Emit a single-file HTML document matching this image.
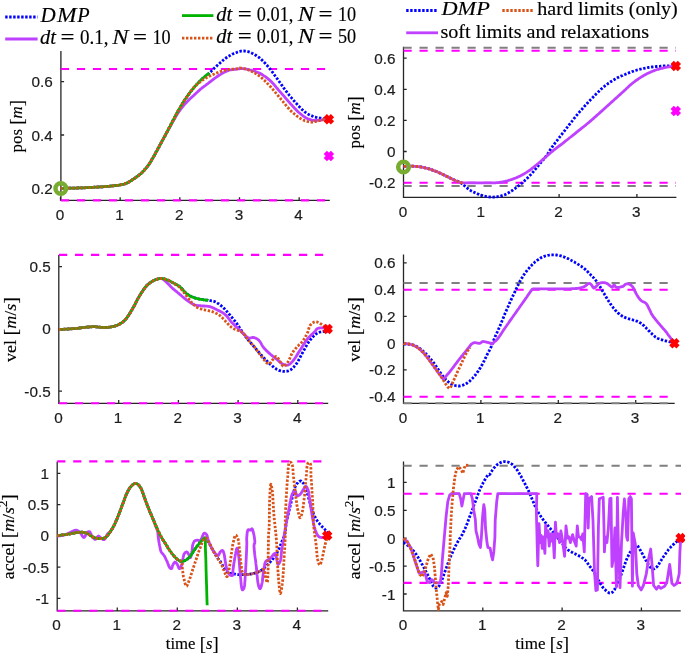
<!DOCTYPE html>
<html><head><meta charset="utf-8"><title>DMP trajectory plots</title>
<style>
html,body{margin:0;padding:0;background:#fff;}
body{width:685px;height:653px;overflow:hidden;}
svg{display:block;}
.ts{font-family:"Liberation Sans",sans-serif;fill:#1c1c1c;stroke:#1c1c1c;stroke-width:0.2px;}
.tr{font-family:"Liberation Serif",serif;fill:#000;stroke:#000;stroke-width:0.15px;}
.it{font-style:italic;}
</style></head><body>
<svg width="685" height="653" viewBox="0 0 685 653">
<rect width="685" height="653" fill="#fff"/>
<path d="M60.9 51V200.4H329.8M60.5 200.4v-3.2M120.17 200.4v-3.2M179.84 200.4v-3.2M239.51 200.4v-3.2M299.18 200.4v-3.2M60.9 188.3h3.2M60.9 135.0h3.2M60.9 81.70000000000002h3.2" stroke="#262626" stroke-width="1.3" fill="none"/>
<text x="59.9" y="219.70000000000002" font-size="15.3" text-anchor="middle" class="ts">0</text>
<text x="119.57000000000001" y="219.70000000000002" font-size="15.3" text-anchor="middle" class="ts">1</text>
<text x="179.24" y="219.70000000000002" font-size="15.3" text-anchor="middle" class="ts">2</text>
<text x="238.91" y="219.70000000000002" font-size="15.3" text-anchor="middle" class="ts">3</text>
<text x="298.58" y="219.70000000000002" font-size="15.3" text-anchor="middle" class="ts">4</text>
<text x="52.8" y="193.8" font-size="15.3" text-anchor="end" class="ts">0.2</text>
<text x="52.8" y="140.5" font-size="15.3" text-anchor="end" class="ts">0.4</text>
<text x="52.8" y="87.20000000000002" font-size="15.3" text-anchor="end" class="ts">0.6</text>
<path d="M60.9 69.0H329" stroke="#ff00ff" stroke-width="2.1" stroke-dasharray="8.2 7.8" fill="none"/>
<path d="M60.9 200.4H329" stroke="#ff00ff" stroke-width="2.1" stroke-dasharray="8.2 7.8" fill="none"/>
<path d="M403.5 46.7V197.3H676.4M403.5 197.3v-3.2M481.3 197.3v-3.2M559.1 197.3v-3.2M636.9 197.3v-3.2M403.5 182.6h3.2M403.5 151.5h3.2M403.5 120.4h3.2M403.5 89.3h3.2M403.5 58.2h3.2" stroke="#262626" stroke-width="1.3" fill="none"/>
<text x="402.9" y="216.60000000000002" font-size="15.3" text-anchor="middle" class="ts">0</text>
<text x="480.7" y="216.60000000000002" font-size="15.3" text-anchor="middle" class="ts">1</text>
<text x="558.5" y="216.60000000000002" font-size="15.3" text-anchor="middle" class="ts">2</text>
<text x="636.3" y="216.60000000000002" font-size="15.3" text-anchor="middle" class="ts">3</text>
<text x="395.4" y="188.1" font-size="15.3" text-anchor="end" class="ts">-0.2</text>
<text x="395.4" y="157.0" font-size="15.3" text-anchor="end" class="ts">0</text>
<text x="395.4" y="125.9" font-size="15.3" text-anchor="end" class="ts">0.2</text>
<text x="395.4" y="94.8" font-size="15.3" text-anchor="end" class="ts">0.4</text>
<text x="395.4" y="63.7" font-size="15.3" text-anchor="end" class="ts">0.6</text>
<path d="M403.5 47.7H676" stroke="#808080" stroke-width="2.1" stroke-dasharray="8.2 7.8" fill="none"/>
<path d="M403.5 50.75H676" stroke="#ff00ff" stroke-width="2.1" stroke-dasharray="8.2 7.8" fill="none"/>
<path d="M403.5 186.0H676" stroke="#808080" stroke-width="2.1" stroke-dasharray="8.2 7.8" fill="none"/>
<path d="M403.5 182.8H676" stroke="#ff00ff" stroke-width="2.1" stroke-dasharray="8.2 7.8" fill="none"/>
<path d="M58.8 254.9V403.3H328.2M59.0 403.3v-3.2M118.7 403.3v-3.2M178.4 403.3v-3.2M238.10000000000002 403.3v-3.2M297.8 403.3v-3.2M58.8 391.09999999999997h3.2M58.8 328.9h3.2M58.8 266.7h3.2" stroke="#262626" stroke-width="1.3" fill="none"/>
<text x="58.4" y="422.6" font-size="15.3" text-anchor="middle" class="ts">0</text>
<text x="118.10000000000001" y="422.6" font-size="15.3" text-anchor="middle" class="ts">1</text>
<text x="177.8" y="422.6" font-size="15.3" text-anchor="middle" class="ts">2</text>
<text x="237.50000000000003" y="422.6" font-size="15.3" text-anchor="middle" class="ts">3</text>
<text x="297.2" y="422.6" font-size="15.3" text-anchor="middle" class="ts">4</text>
<text x="50.699999999999996" y="396.59999999999997" font-size="15.3" text-anchor="end" class="ts">-0.5</text>
<text x="50.699999999999996" y="334.4" font-size="15.3" text-anchor="end" class="ts">0</text>
<text x="50.699999999999996" y="272.2" font-size="15.3" text-anchor="end" class="ts">0.5</text>
<path d="M59 254.9H328" stroke="#ff00ff" stroke-width="2.1" stroke-dasharray="8.2 7.8" fill="none"/>
<path d="M59 403.3H328" stroke="#ff00ff" stroke-width="2.1" stroke-dasharray="8.2 7.8" fill="none"/>
<path d="M403.5 254.4V403.3H674.7M403.5 403.3v-3.2M480.9 403.3v-3.2M558.3 403.3v-3.2M635.7 403.3v-3.2M403.5 396.7h3.2M403.5 369.95h3.2M403.5 343.2h3.2M403.5 316.45h3.2M403.5 289.7h3.2M403.5 262.95h3.2" stroke="#262626" stroke-width="1.3" fill="none"/>
<text x="402.9" y="422.6" font-size="15.3" text-anchor="middle" class="ts">0</text>
<text x="480.29999999999995" y="422.6" font-size="15.3" text-anchor="middle" class="ts">1</text>
<text x="557.6999999999999" y="422.6" font-size="15.3" text-anchor="middle" class="ts">2</text>
<text x="635.1" y="422.6" font-size="15.3" text-anchor="middle" class="ts">3</text>
<text x="395.4" y="402.2" font-size="15.3" text-anchor="end" class="ts">-0.4</text>
<text x="395.4" y="375.45" font-size="15.3" text-anchor="end" class="ts">-0.2</text>
<text x="395.4" y="348.7" font-size="15.3" text-anchor="end" class="ts">0</text>
<text x="395.4" y="321.95" font-size="15.3" text-anchor="end" class="ts">0.2</text>
<text x="395.4" y="295.2" font-size="15.3" text-anchor="end" class="ts">0.4</text>
<text x="395.4" y="268.45" font-size="15.3" text-anchor="end" class="ts">0.6</text>
<path d="M403.5 283.0H674" stroke="#808080" stroke-width="2.1" stroke-dasharray="8.2 7.8" fill="none"/>
<path d="M403.5 403.3H674" stroke="#808080" stroke-width="2.1" stroke-dasharray="8.2 7.8" fill="none"/>
<path d="M403.5 289.7H674" stroke="#ff00ff" stroke-width="2.1" stroke-dasharray="8.2 7.8" fill="none"/>
<path d="M403.5 396.8H674" stroke="#ff00ff" stroke-width="2.1" stroke-dasharray="8.2 7.8" fill="none"/>
<path d="M57.2 461.4V610.8H328.2M57.2 610.8v-3.2M117.25 610.8v-3.2M177.3 610.8v-3.2M237.34999999999997 610.8v-3.2M297.4 610.8v-3.2M57.2 598.4h3.2M57.2 567.15h3.2M57.2 535.9h3.2M57.2 504.65h3.2M57.2 473.4h3.2" stroke="#262626" stroke-width="1.3" fill="none"/>
<text x="56.6" y="630.0999999999999" font-size="15.3" text-anchor="middle" class="ts">0</text>
<text x="116.65" y="630.0999999999999" font-size="15.3" text-anchor="middle" class="ts">1</text>
<text x="176.70000000000002" y="630.0999999999999" font-size="15.3" text-anchor="middle" class="ts">2</text>
<text x="236.74999999999997" y="630.0999999999999" font-size="15.3" text-anchor="middle" class="ts">3</text>
<text x="296.79999999999995" y="630.0999999999999" font-size="15.3" text-anchor="middle" class="ts">4</text>
<text x="49.1" y="603.9" font-size="15.3" text-anchor="end" class="ts">-1</text>
<text x="49.1" y="572.65" font-size="15.3" text-anchor="end" class="ts">-0.5</text>
<text x="49.1" y="541.4" font-size="15.3" text-anchor="end" class="ts">0</text>
<text x="49.1" y="510.15" font-size="15.3" text-anchor="end" class="ts">0.5</text>
<text x="49.1" y="478.9" font-size="15.3" text-anchor="end" class="ts">1</text>
<path d="M57.2 461.4H328" stroke="#ff00ff" stroke-width="2.1" stroke-dasharray="8.2 7.8" fill="none"/>
<path d="M57.2 610.8H328" stroke="#ff00ff" stroke-width="2.1" stroke-dasharray="8.2 7.8" fill="none"/>
<path d="M403.5 461.4V610.8H680.7M403.5 610.8v-3.2M482.8 610.8v-3.2M562.1 610.8v-3.2M641.4 610.8v-3.2M403.5 594.0h3.2M403.5 566.1h3.2M403.5 538.2h3.2M403.5 510.30000000000007h3.2M403.5 482.40000000000003h3.2" stroke="#262626" stroke-width="1.3" fill="none"/>
<text x="402.9" y="630.0999999999999" font-size="15.3" text-anchor="middle" class="ts">0</text>
<text x="482.2" y="630.0999999999999" font-size="15.3" text-anchor="middle" class="ts">1</text>
<text x="561.5" y="630.0999999999999" font-size="15.3" text-anchor="middle" class="ts">2</text>
<text x="640.8" y="630.0999999999999" font-size="15.3" text-anchor="middle" class="ts">3</text>
<text x="395.4" y="599.5" font-size="15.3" text-anchor="end" class="ts">-1</text>
<text x="395.4" y="571.6" font-size="15.3" text-anchor="end" class="ts">-0.5</text>
<text x="395.4" y="543.7" font-size="15.3" text-anchor="end" class="ts">0</text>
<text x="395.4" y="515.8000000000001" font-size="15.3" text-anchor="end" class="ts">0.5</text>
<text x="395.4" y="487.90000000000003" font-size="15.3" text-anchor="end" class="ts">1</text>
<path d="M403.5 465.7H681" stroke="#808080" stroke-width="2.1" stroke-dasharray="8.2 7.8" fill="none"/>
<path d="M403.5 493.7H681" stroke="#ff00ff" stroke-width="2.1" stroke-dasharray="8.2 7.8" fill="none"/>
<path d="M403.5 582.9H681" stroke="#ff00ff" stroke-width="2.1" stroke-dasharray="8.2 7.8" fill="none"/>
<path d="M60.5 188.3L60.9 188.3L62.1 188.3L63.8 188.3L66.0 188.3L68.4 188.2L70.8 188.2L73.2 188.1L75.3 188.1L77.5 188.0L79.6 187.9L81.9 187.9L84.1 187.8L86.3 187.7L88.6 187.6L90.8 187.5L92.9 187.3L94.9 187.2L96.8 187.1L98.7 187.0L100.6 186.9L102.5 186.8L104.3 186.6L106.2 186.5L108.0 186.3L109.6 186.2L111.3 186.0L113.0 185.9L114.6 185.7L116.2 185.5L117.7 185.3L119.2 185.1L120.5 184.8L121.4 184.6L122.3 184.5L123.1 184.3L123.9 184.1L124.6 183.9L125.3 183.6L126.1 183.4L126.8 183.1L127.5 182.8L128.1 182.4L128.8 182.1L129.4 181.7L130.0 181.3L130.6 180.9L131.3 180.5L132.0 180.0L133.0 179.4L134.0 178.7L135.1 178.0L136.2 177.2L137.3 176.4L138.4 175.6L139.4 174.8L140.4 174.0L141.3 173.2L142.2 172.4L143.0 171.5L143.8 170.7L144.6 169.8L145.4 168.9L146.2 168.0L147.0 167.0L147.9 165.9L148.7 164.7L149.5 163.5L150.3 162.2L151.1 160.9L151.9 159.6L152.6 158.3L153.4 157.0L154.2 155.7L154.9 154.3L155.7 152.9L156.4 151.5L157.2 150.2L157.9 148.8L158.7 147.4L159.4 146.0L160.2 144.6L160.9 143.3L161.7 141.9L162.4 140.5L163.2 139.1L163.9 137.8L164.7 136.4L165.4 135.0L166.1 133.6L166.9 132.3L167.6 130.9L168.3 129.5L169.0 128.1L169.8 126.8L170.5 125.4L171.2 124.0L171.9 122.6L172.6 121.2L173.4 119.8L174.1 118.5L174.8 117.1L175.5 115.7L176.3 114.3L177.0 113.0L177.7 111.7L178.4 110.4L179.1 109.2L179.9 107.9L180.6 106.7L181.3 105.4L182.1 104.2L182.8 103.0L183.5 101.9L184.2 100.8L184.9 99.7L185.7 98.6L186.4 97.5L187.1 96.5L187.9 95.4L188.6 94.4L189.3 93.4L190.0 92.5L190.7 91.5L191.5 90.6L192.2 89.7L192.9 88.8L193.7 87.9L194.4 87.0L195.1 86.2L195.8 85.4L196.5 84.7L197.2 83.9L197.9 83.2L198.6 82.4L199.3 81.7L200.0 81.0L200.7 80.3L201.5 79.6L202.3 78.8L203.1 78.1L203.8 77.4L204.6 76.8L205.3 76.2L206.0 75.6L206.5 75.2L206.9 74.9L207.3 74.6L207.7 74.3L208.1 74.0L208.5 73.7L209.0 73.4L209.4 73.0L209.9 72.5L210.5 72.0L211.1 71.4L211.6 70.8L212.2 70.2L212.8 69.6L213.4 69.0L214.0 68.4L214.7 67.7L215.4 67.1L216.2 66.4L216.9 65.7L217.7 65.0L218.5 64.3L219.2 63.7L220.0 63.0L220.7 62.4L221.5 61.7L222.2 61.0L223.0 60.4L223.7 59.8L224.5 59.2L225.2 58.6L226.0 58.0L226.7 57.5L227.5 57.0L228.2 56.5L229.0 56.1L229.7 55.6L230.5 55.2L231.2 54.8L232.0 54.4L232.7 54.0L233.5 53.7L234.3 53.4L235.0 53.1L235.8 52.8L236.6 52.5L237.3 52.2L238.0 52.0L238.6 51.8L239.1 51.6L239.6 51.5L240.1 51.3L240.6 51.2L241.2 51.1L241.7 51.0L242.3 51.0L243.1 51.0L244.0 51.0L245.0 51.1L245.9 51.2L246.9 51.4L247.9 51.6L248.9 51.9L249.8 52.2L250.9 52.7L252.0 53.2L253.2 53.7L254.3 54.3L255.4 55.0L256.5 55.7L257.6 56.5L258.6 57.2L259.8 58.1L260.9 59.1L262.0 60.1L263.1 61.2L264.2 62.3L265.3 63.4L266.3 64.6L267.4 65.8L268.7 67.3L269.9 68.9L271.2 70.5L272.5 72.2L273.7 73.9L275.0 75.7L276.2 77.4L277.5 79.1L278.7 80.8L279.9 82.5L281.1 84.2L282.3 85.9L283.5 87.6L284.8 89.4L286.1 91.1L287.5 92.9L289.2 95.1L291.1 97.4L293.1 99.7L295.1 102.1L297.2 104.4L299.1 106.5L300.9 108.4L302.6 110.0L303.4 110.8L304.3 111.4L305.0 112.1L305.8 112.6L306.5 113.1L307.3 113.6L308.1 114.1L308.8 114.5L309.6 114.9L310.4 115.3L311.1 115.6L311.9 115.9L312.7 116.2L313.5 116.5L314.3 116.8L315.1 117.0L316.0 117.3L317.0 117.5L317.9 117.7L318.9 117.9L319.8 118.1L320.8 118.2L321.7 118.4L322.7 118.5L323.6 118.7L324.6 118.8L325.6 118.9L326.6 119.0L327.5 119.1L328.3 119.2L328.8 119.3L328.9 119.3" fill="none" stroke="#0000ff" stroke-width="2.8" stroke-linejoin="round" stroke-dasharray="2.4 1.6"/>
<path d="M60.5 188.3L60.9 188.3L62.1 188.3L63.8 188.3L66.0 188.3L68.4 188.2L70.8 188.2L73.2 188.1L75.3 188.1L77.5 188.0L79.6 187.9L81.9 187.9L84.1 187.8L86.3 187.7L88.6 187.6L90.8 187.5L92.9 187.3L94.9 187.2L96.8 187.1L98.7 187.0L100.6 186.9L102.5 186.8L104.3 186.6L106.2 186.5L108.0 186.3L109.6 186.2L111.3 186.0L113.0 185.9L114.6 185.7L116.2 185.5L117.7 185.3L119.2 185.1L120.5 184.8L121.4 184.6L122.3 184.5L123.1 184.3L123.9 184.1L124.6 183.9L125.3 183.6L126.1 183.4L126.8 183.1L127.5 182.8L128.1 182.4L128.8 182.1L129.4 181.7L130.0 181.3L130.6 180.9L131.3 180.5L132.0 180.0L133.0 179.4L134.0 178.7L135.1 178.0L136.2 177.2L137.3 176.4L138.4 175.6L139.4 174.8L140.4 174.0L141.3 173.2L142.2 172.4L143.0 171.5L143.8 170.7L144.6 169.8L145.4 168.9L146.2 168.0L147.0 167.0L147.9 165.9L148.7 164.7L149.5 163.5L150.3 162.2L151.1 160.9L151.9 159.6L152.6 158.3L153.4 157.0L154.2 155.7L154.9 154.3L155.7 152.9L156.4 151.5L157.2 150.2L157.9 148.8L158.7 147.4L159.4 146.0L160.2 144.6L160.9 143.2L161.7 141.9L162.4 140.5L163.2 139.1L163.9 137.7L164.7 136.4L165.4 135.0L166.1 133.7L166.9 132.4L167.6 131.1L168.3 129.8L169.0 128.5L169.7 127.2L170.5 125.9L171.2 124.6L171.9 123.3L172.6 122.0L173.3 120.8L174.1 119.5L174.8 118.2L175.5 117.0L176.3 115.8L177.0 114.6L177.7 113.5L178.4 112.5L179.1 111.5L179.8 110.5L180.6 109.5L181.3 108.5L182.1 107.5L182.8 106.6L183.5 105.7L184.2 104.9L184.9 104.1L185.7 103.3L186.4 102.5L187.1 101.7L187.9 101.0L188.6 100.2L189.3 99.5L190.0 98.8L190.8 98.1L191.5 97.4L192.2 96.8L193.0 96.1L193.7 95.5L194.4 94.8L195.1 94.1L195.8 93.5L196.5 92.8L197.2 92.2L197.9 91.5L198.6 90.9L199.3 90.2L200.0 89.6L200.7 89.0L201.5 88.4L202.2 87.8L203.0 87.3L203.7 86.7L204.5 86.1L205.2 85.6L206.0 85.0L206.7 84.4L207.5 83.8L208.2 83.3L209.0 82.7L209.7 82.1L210.5 81.5L211.2 81.0L212.0 80.4L212.7 79.8L213.5 79.3L214.2 78.7L215.0 78.1L215.7 77.6L216.5 77.0L217.2 76.5L218.0 76.0L218.7 75.5L219.5 75.0L220.2 74.6L221.0 74.1L221.7 73.6L222.5 73.2L223.2 72.8L224.0 72.4L224.7 72.0L225.5 71.7L226.2 71.4L226.9 71.0L227.7 70.8L228.4 70.5L229.2 70.2L230.0 70.0L231.0 69.8L232.0 69.6L233.1 69.5L234.2 69.4L235.2 69.3L236.2 69.2L237.2 69.1L238.0 69.0L238.4 68.9L238.8 68.9L239.2 68.8L239.5 68.7L239.9 68.6L240.2 68.6L240.6 68.6L241.1 68.5L241.9 68.6L242.9 68.6L244.0 68.8L245.1 68.9L246.3 69.1L247.5 69.3L248.7 69.5L249.8 69.8L251.1 70.1L252.3 70.5L253.6 70.8L254.9 71.2L256.1 71.7L257.4 72.2L258.7 72.7L259.9 73.3L261.2 74.0L262.5 74.8L263.7 75.6L265.0 76.4L266.3 77.3L267.5 78.3L268.7 79.3L269.9 80.4L271.2 81.6L272.5 82.9L273.7 84.2L274.9 85.6L276.1 87.1L277.3 88.5L278.6 90.1L280.0 91.6L281.9 93.8L284.0 96.2L286.2 98.8L288.4 101.3L290.6 103.8L292.7 106.2L294.6 108.3L296.3 110.0L297.0 110.7L297.7 111.4L298.3 112.0L298.9 112.5L299.5 113.0L300.1 113.5L300.7 114.0L301.3 114.5L301.9 115.0L302.5 115.5L303.1 116.0L303.7 116.4L304.4 116.8L305.0 117.3L305.7 117.7L306.3 118.0L307.1 118.4L307.8 118.8L308.6 119.1L309.4 119.4L310.2 119.7L311.0 119.9L311.8 120.1L312.6 120.3L313.4 120.4L314.2 120.5L315.0 120.5L315.7 120.5L316.5 120.4L317.3 120.4L318.1 120.3L318.9 120.3L319.7 120.2L320.5 120.1L321.3 120.0L322.1 119.9L322.9 119.8L323.7 119.7L324.5 119.6L325.2 119.5L325.7 119.5L326.4 119.4L327.0 119.4L327.6 119.4L328.1 119.3L328.5 119.3L328.8 119.3L328.9 119.3" fill="none" stroke="#bf40ff" stroke-width="2.8" stroke-linejoin="round"/>
<path d="M60.5 188.3L60.9 188.3L62.1 188.3L63.8 188.3L66.0 188.3L68.4 188.2L70.8 188.2L73.2 188.1L75.3 188.1L77.5 188.0L79.6 187.9L81.9 187.9L84.1 187.8L86.3 187.7L88.6 187.6L90.8 187.5L92.9 187.3L94.9 187.2L96.8 187.1L98.7 187.0L100.6 186.9L102.5 186.8L104.3 186.6L106.2 186.5L108.0 186.3L109.6 186.2L111.3 186.0L113.0 185.9L114.6 185.7L116.2 185.5L117.7 185.3L119.2 185.1L120.5 184.8L121.4 184.6L122.3 184.5L123.1 184.3L123.9 184.1L124.6 183.9L125.3 183.6L126.1 183.4L126.8 183.1L127.5 182.8L128.1 182.4L128.8 182.1L129.4 181.7L130.0 181.3L130.6 180.9L131.3 180.5L132.0 180.0L133.0 179.4L134.0 178.7L135.1 178.0L136.2 177.2L137.3 176.4L138.4 175.6L139.4 174.8L140.4 174.0L141.3 173.2L142.2 172.4L143.0 171.5L143.8 170.7L144.6 169.8L145.4 168.9L146.2 168.0L147.0 167.0L147.9 165.9L148.7 164.7L149.5 163.5L150.3 162.2L151.1 160.9L151.9 159.6L152.6 158.3L153.4 157.0L154.2 155.7L154.9 154.3L155.7 152.9L156.4 151.5L157.2 150.2L157.9 148.8L158.7 147.4L159.4 146.0L160.2 144.6L160.9 143.3L161.7 141.9L162.4 140.5L163.2 139.1L163.9 137.8L164.7 136.4L165.4 135.0L166.1 133.6L166.9 132.3L167.6 130.9L168.3 129.5L169.0 128.1L169.8 126.8L170.5 125.4L171.2 124.0L171.9 122.6L172.6 121.2L173.4 119.8L174.1 118.5L174.8 117.1L175.5 115.7L176.3 114.3L177.0 113.0L177.7 111.7L178.4 110.4L179.1 109.2L179.9 107.9L180.6 106.7L181.3 105.4L182.1 104.2L182.8 103.0L183.5 101.9L184.2 100.8L184.9 99.7L185.7 98.6L186.4 97.5L187.1 96.5L187.9 95.4L188.6 94.4L189.3 93.4L190.0 92.5L190.7 91.5L191.5 90.6L192.2 89.7L192.9 88.8L193.7 87.9L194.4 87.0L195.1 86.2L195.8 85.4L196.5 84.7L197.2 83.9L197.9 83.2L198.6 82.4L199.3 81.7L200.0 81.0L200.7 80.3L201.5 79.6L202.3 78.8L203.1 78.1L203.8 77.4L204.6 76.8L205.3 76.2L206.0 75.6L206.5 75.2L207.1 74.7L207.6 74.3L208.2 73.9L208.7 73.5L209.0 73.3L209.3 73.1L209.4 73.0" fill="none" stroke="#00b300" stroke-width="2.8" stroke-linejoin="round"/>
<path d="M60.5 188.3L60.9 188.3L62.1 188.3L63.8 188.3L66.0 188.3L68.4 188.2L70.8 188.2L73.2 188.1L75.3 188.1L77.5 188.0L79.6 187.9L81.9 187.9L84.1 187.8L86.3 187.7L88.6 187.6L90.8 187.5L92.9 187.3L94.9 187.2L96.8 187.1L98.7 187.0L100.6 186.9L102.5 186.8L104.3 186.6L106.2 186.5L108.0 186.3L109.6 186.2L111.3 186.0L113.0 185.9L114.6 185.7L116.2 185.5L117.7 185.3L119.2 185.1L120.5 184.8L121.4 184.6L122.3 184.5L123.1 184.3L123.9 184.1L124.6 183.9L125.3 183.6L126.1 183.4L126.8 183.1L127.5 182.8L128.1 182.4L128.8 182.1L129.4 181.7L130.0 181.3L130.6 180.9L131.3 180.5L132.0 180.0L133.0 179.4L134.0 178.7L135.1 178.0L136.2 177.2L137.3 176.4L138.4 175.6L139.4 174.8L140.4 174.0L141.3 173.2L142.2 172.4L143.0 171.5L143.8 170.7L144.6 169.8L145.4 168.9L146.2 168.0L147.0 167.0L147.9 165.9L148.7 164.7L149.5 163.5L150.3 162.2L151.1 160.9L151.9 159.6L152.6 158.3L153.4 157.0L154.2 155.7L154.9 154.3L155.7 152.9L156.4 151.5L157.2 150.2L157.9 148.8L158.7 147.4L159.4 146.0L160.2 144.6L160.9 143.3L161.7 141.9L162.4 140.5L163.2 139.1L163.9 137.8L164.7 136.4L165.4 135.0L166.1 133.6L166.9 132.3L167.6 130.9L168.3 129.5L169.0 128.1L169.8 126.8L170.5 125.4L171.2 124.0L171.9 122.6L172.6 121.2L173.4 119.8L174.1 118.5L174.8 117.1L175.5 115.7L176.3 114.3L177.0 113.0L177.7 111.7L178.4 110.4L179.1 109.2L179.9 107.9L180.6 106.7L181.3 105.4L182.1 104.2L182.8 103.0L183.5 101.9L184.2 100.8L184.9 99.7L185.7 98.6L186.4 97.5L187.1 96.5L187.9 95.4L188.6 94.4L189.3 93.4L190.0 92.5L190.7 91.5L191.5 90.5L192.2 89.6L192.9 88.7L193.6 87.8L194.4 87.0L195.1 86.3L195.8 85.6L196.4 85.0L197.1 84.3L197.8 83.7L198.6 83.1L199.3 82.6L200.0 82.0L200.7 81.5L201.5 80.9L202.2 80.4L203.0 79.9L203.7 79.4L204.5 78.9L205.2 78.5L206.0 78.0L206.7 77.6L207.5 77.2L208.2 76.8L209.0 76.4L209.7 76.1L210.5 75.7L211.2 75.4L212.0 75.0L212.7 74.7L213.5 74.3L214.2 74.0L215.0 73.6L215.7 73.3L216.5 73.0L217.2 72.7L218.0 72.4L218.7 72.1L219.5 71.9L220.2 71.6L221.0 71.4L221.7 71.2L222.5 71.0L223.2 70.8L224.0 70.6L224.7 70.4L225.5 70.2L226.2 70.1L226.9 69.9L227.7 69.8L228.4 69.7L229.2 69.5L230.0 69.4L231.0 69.3L232.1 69.2L233.2 69.1L234.3 69.0L235.4 68.9L236.4 68.8L237.3 68.7L238.0 68.6L238.3 68.5L238.5 68.4L238.7 68.4L238.9 68.3L239.1 68.2L239.3 68.1L239.5 68.1L239.8 68.0L240.5 68.1L241.3 68.1L242.2 68.2L243.2 68.4L244.2 68.7L245.3 68.9L246.3 69.2L247.3 69.6L248.5 70.0L249.8 70.5L251.1 71.1L252.3 71.7L253.6 72.3L254.9 73.0L256.1 73.8L257.4 74.6L258.7 75.5L260.0 76.5L261.2 77.5L262.5 78.6L263.7 79.8L265.0 80.9L266.2 82.1L267.4 83.4L268.7 84.7L270.0 86.1L271.2 87.5L272.4 88.9L273.7 90.4L274.9 91.9L276.2 93.4L277.5 94.9L279.0 96.8L280.6 98.7L282.3 100.8L284.0 102.9L285.6 104.9L287.2 106.8L288.7 108.5L290.0 110.0L290.7 110.7L291.4 111.4L292.0 111.9L292.6 112.5L293.2 113.0L293.8 113.5L294.4 114.0L295.0 114.5L295.7 115.0L296.3 115.5L296.9 116.0L297.5 116.5L298.1 117.0L298.8 117.4L299.4 117.9L300.1 118.3L300.7 118.7L301.3 119.0L301.9 119.4L302.5 119.7L303.1 120.0L303.8 120.3L304.4 120.6L305.1 120.8L305.8 121.0L306.6 121.3L307.4 121.5L308.2 121.7L309.0 121.8L309.8 121.9L310.6 122.0L311.4 122.1L312.1 122.0L312.9 122.0L313.7 121.9L314.5 121.7L315.3 121.6L316.1 121.4L316.9 121.2L317.6 121.0L318.4 120.9L319.2 120.7L320.0 120.5L320.8 120.2L321.6 120.0L322.4 119.8L323.2 119.7L323.9 119.5L324.6 119.5L325.4 119.4L326.3 119.4L327.1 119.3L327.8 119.3L328.4 119.3L328.8 119.3L328.9 119.3" fill="none" stroke="#d95319" stroke-width="2.8" stroke-linejoin="round" stroke-dasharray="2.4 1.6"/>
<path d="M325.29999999999995 152.4L332.5 159.6M325.29999999999995 159.6L332.5 152.4" stroke="#ff00ff" stroke-width="4.6" fill="none"/>
<path d="M325.29999999999995 115.7L332.5 122.89999999999999M325.29999999999995 122.89999999999999L332.5 115.7" stroke="#ff0000" stroke-width="4.6" fill="none"/>
<circle cx="60.8" cy="188.5" r="5.3" stroke="#77ac30" stroke-width="4.5" fill="none"/>
<path d="M403.6 166.4L403.8 166.4L404.5 166.4L405.5 166.3L406.8 166.3L408.1 166.2L409.5 166.2L410.8 166.2L412.0 166.2L413.0 166.2L414.0 166.3L415.0 166.3L416.0 166.4L417.0 166.5L418.0 166.5L419.0 166.7L420.0 166.8L421.0 167.0L422.0 167.1L423.0 167.3L424.0 167.6L425.0 167.8L426.0 168.1L427.0 168.3L428.0 168.6L429.0 168.9L430.0 169.2L431.0 169.5L432.0 169.9L433.0 170.3L434.0 170.6L435.0 171.0L436.0 171.4L437.0 171.8L438.0 172.2L439.0 172.7L440.0 173.1L441.0 173.6L442.0 174.1L443.0 174.5L444.0 175.0L445.0 175.5L446.0 176.0L447.0 176.5L448.0 177.0L449.0 177.5L450.0 178.0L451.0 178.5L452.0 179.0L453.0 179.4L454.0 179.8L455.0 180.2L456.0 180.6L457.0 181.0L458.0 181.4L459.0 181.8L460.0 182.4L461.2 183.2L462.5 184.1L463.8 185.2L465.0 186.2L466.3 187.3L467.6 188.3L468.8 189.3L470.0 190.1L470.9 190.7L471.9 191.2L472.8 191.7L473.7 192.1L474.6 192.5L475.5 192.9L476.4 193.3L477.3 193.7L478.2 194.1L479.1 194.4L480.0 194.8L480.9 195.1L481.8 195.4L482.7 195.7L483.6 196.0L484.6 196.2L485.7 196.4L486.7 196.6L487.8 196.8L488.9 196.9L490.1 197.0L491.2 197.1L492.3 197.1L493.4 197.1L494.5 197.0L495.6 196.9L496.7 196.8L497.8 196.6L498.9 196.4L500.0 196.2L501.1 195.9L502.1 195.6L503.1 195.3L504.0 194.9L504.9 194.6L505.8 194.2L506.7 193.7L507.6 193.3L508.5 192.8L509.4 192.3L510.3 191.7L511.3 191.2L512.2 190.5L513.1 189.9L514.0 189.2L514.9 188.6L515.8 187.9L516.7 187.2L517.6 186.5L518.5 185.8L519.5 185.1L520.4 184.4L521.3 183.6L522.2 182.9L523.1 182.1L524.0 181.3L524.9 180.4L525.9 179.6L526.8 178.7L527.7 177.8L528.6 176.9L529.5 175.9L530.4 175.0L531.3 174.0L532.2 173.0L533.2 171.9L534.1 170.8L535.0 169.7L535.9 168.6L536.8 167.5L537.7 166.4L538.6 165.3L539.5 164.2L540.4 163.1L541.4 162.0L542.3 161.0L543.2 159.9L544.1 158.8L545.0 157.6L545.9 156.5L546.7 155.3L547.5 154.2L548.3 153.0L549.0 151.8L549.8 150.6L550.5 149.4L551.4 148.1L552.3 146.8L553.6 145.0L555.0 143.1L556.6 141.1L558.1 139.1L559.7 137.0L561.3 134.9L562.9 132.9L564.5 130.9L566.0 128.9L567.6 126.9L569.1 124.9L570.6 123.0L572.2 121.0L573.7 119.0L575.2 117.1L576.8 115.2L578.3 113.4L579.8 111.6L581.4 109.9L582.9 108.1L584.4 106.4L586.0 104.7L587.5 103.0L589.0 101.4L590.4 99.9L591.8 98.4L593.3 96.9L594.7 95.4L596.1 94.0L597.5 92.7L598.8 91.4L600.0 90.2L600.8 89.4L601.6 88.7L602.4 88.0L603.2 87.3L603.9 86.7L604.7 86.1L605.4 85.5L606.2 84.9L607.0 84.3L607.7 83.8L608.5 83.2L609.3 82.7L610.1 82.2L610.8 81.7L611.6 81.2L612.4 80.7L613.2 80.2L613.9 79.8L614.7 79.3L615.5 78.9L616.3 78.4L617.0 78.0L617.8 77.6L618.6 77.2L619.4 76.8L620.1 76.5L620.9 76.1L621.7 75.8L622.5 75.5L623.2 75.1L624.0 74.8L624.8 74.5L625.6 74.2L626.3 73.9L627.1 73.5L627.9 73.2L628.7 72.9L629.4 72.6L630.2 72.3L631.0 72.0L631.8 71.7L632.5 71.5L633.3 71.2L634.1 70.9L634.9 70.7L635.6 70.5L636.4 70.2L637.2 70.0L638.0 69.8L638.7 69.6L639.5 69.4L640.3 69.2L641.1 69.0L641.8 68.8L642.6 68.7L643.4 68.5L644.2 68.3L644.9 68.2L645.7 68.0L646.5 67.9L647.3 67.7L648.0 67.6L648.8 67.4L649.6 67.3L650.4 67.2L651.1 67.1L651.9 67.0L652.7 66.9L653.5 66.8L654.2 66.7L655.0 66.7L655.8 66.6L656.6 66.5L657.3 66.5L658.1 66.4L658.9 66.3L659.7 66.3L660.4 66.2L661.2 66.2L662.0 66.1L662.8 66.1L663.6 66.0L664.3 66.0L665.1 65.9L665.9 65.9L666.7 65.8L667.4 65.8L668.2 65.8L669.0 65.8L669.9 65.8L670.9 65.8L671.8 65.8L672.7 65.8L673.4 65.8L673.8 65.8L674.0 65.8" fill="none" stroke="#0000ff" stroke-width="2.8" stroke-linejoin="round" stroke-dasharray="2.4 1.6"/>
<path d="M403.6 166.4L403.8 166.4L404.5 166.4L405.5 166.3L406.8 166.3L408.1 166.2L409.5 166.2L410.8 166.2L412.0 166.2L413.0 166.2L414.0 166.3L415.0 166.3L416.0 166.4L417.0 166.5L418.0 166.5L419.0 166.7L420.0 166.8L421.0 167.0L422.0 167.1L423.0 167.3L424.0 167.6L425.0 167.8L426.0 168.1L427.0 168.3L428.0 168.6L429.0 168.9L430.0 169.2L431.0 169.5L432.0 169.9L433.0 170.3L434.0 170.6L435.0 171.0L436.0 171.4L437.0 171.8L438.0 172.2L439.0 172.7L440.0 173.1L441.0 173.6L442.0 174.1L443.0 174.5L444.0 175.0L445.0 175.5L446.0 176.0L447.0 176.5L448.0 177.0L449.0 177.5L450.0 178.0L451.0 178.5L452.0 179.0L453.0 179.5L454.0 180.0L455.0 180.4L456.0 180.9L457.0 181.4L458.0 181.8L459.0 182.1L460.0 182.4L461.0 182.6L461.9 182.7L462.9 182.8L463.9 182.8L464.9 182.8L465.9 182.8L466.9 182.8L468.0 182.8L469.4 182.8L470.8 182.9L472.3 182.9L473.8 182.9L475.3 182.9L476.9 182.9L478.4 182.9L480.0 182.9L481.7 182.9L483.6 182.9L485.5 182.9L487.4 182.9L489.2 182.9L491.0 182.9L492.6 182.8L494.0 182.8L494.8 182.8L495.5 182.8L496.1 182.7L496.7 182.7L497.3 182.7L497.9 182.6L498.5 182.6L499.2 182.5L500.1 182.4L500.9 182.2L501.9 182.1L502.8 181.9L503.7 181.7L504.7 181.5L505.6 181.2L506.5 181.0L507.4 180.8L508.3 180.5L509.3 180.2L510.2 180.0L511.1 179.7L512.0 179.4L512.9 179.0L513.8 178.7L514.7 178.3L515.6 178.0L516.6 177.6L517.5 177.2L518.4 176.8L519.3 176.4L520.2 176.0L521.1 175.5L522.0 175.0L522.9 174.5L523.9 174.0L524.8 173.4L525.7 172.9L526.6 172.3L527.5 171.7L528.4 171.1L529.3 170.5L530.2 169.8L531.2 169.1L532.1 168.4L533.0 167.7L533.9 167.0L534.8 166.2L535.7 165.5L536.6 164.8L537.5 164.0L538.4 163.3L539.3 162.5L540.2 161.8L541.1 161.0L542.0 160.2L543.0 159.4L544.1 158.4L545.2 157.5L546.3 156.5L547.5 155.4L548.7 154.4L549.8 153.4L551.1 152.3L552.3 151.3L553.7 150.1L555.2 149.0L556.7 147.8L558.3 146.6L559.8 145.5L561.4 144.3L563.0 143.1L564.5 141.9L566.0 140.7L567.6 139.5L569.1 138.2L570.7 137.0L572.2 135.8L573.7 134.6L575.3 133.3L576.8 132.1L578.3 130.9L579.9 129.7L581.4 128.4L583.0 127.2L584.5 126.0L586.0 124.8L587.5 123.5L589.0 122.3L590.4 121.1L591.9 119.8L593.3 118.6L594.7 117.3L596.1 116.1L597.5 114.8L598.8 113.7L600.0 112.6L600.9 111.8L601.7 111.1L602.5 110.4L603.2 109.7L604.0 109.0L604.7 108.4L605.4 107.7L606.2 107.0L607.0 106.3L607.8 105.6L608.5 104.9L609.3 104.2L610.1 103.5L610.9 102.8L611.6 102.1L612.4 101.4L613.2 100.7L613.9 100.0L614.7 99.3L615.5 98.6L616.3 97.9L617.1 97.2L617.8 96.5L618.6 95.8L619.4 95.1L620.2 94.4L620.9 93.7L621.7 93.0L622.5 92.3L623.3 91.6L624.0 90.9L624.8 90.2L625.6 89.5L626.3 88.7L627.1 88.0L627.9 87.3L628.7 86.5L629.4 85.8L630.2 85.1L631.0 84.4L631.8 83.8L632.5 83.2L633.3 82.6L634.1 82.0L634.9 81.4L635.6 80.8L636.4 80.3L637.2 79.7L638.0 79.2L638.7 78.6L639.5 78.1L640.3 77.6L641.1 77.1L641.8 76.6L642.6 76.2L643.4 75.7L644.2 75.3L644.9 74.8L645.7 74.4L646.5 74.0L647.3 73.6L648.0 73.2L648.8 72.9L649.6 72.5L650.4 72.2L651.1 71.8L651.9 71.5L652.7 71.2L653.5 70.9L654.2 70.6L655.0 70.3L655.8 70.0L656.6 69.7L657.3 69.5L658.1 69.3L658.9 69.1L659.7 68.9L660.4 68.7L661.2 68.5L662.0 68.3L662.8 68.1L663.6 67.9L664.3 67.7L665.1 67.5L665.9 67.4L666.7 67.2L667.4 67.0L668.2 66.9L669.0 66.8L669.9 66.7L670.9 66.6L671.8 66.5L672.7 66.4L673.4 66.3L673.8 66.3L674.0 66.3" fill="none" stroke="#bf40ff" stroke-width="2.8" stroke-linejoin="round"/>
<path d="M403.6 166.4L403.8 166.4L404.5 166.4L405.5 166.3L406.8 166.3L408.1 166.2L409.5 166.2L410.8 166.2L412.0 166.2L413.0 166.2L414.0 166.3L415.0 166.3L416.0 166.4L417.0 166.5L418.0 166.5L419.0 166.7L420.0 166.8L421.0 167.0L422.0 167.1L423.0 167.3L424.0 167.6L425.0 167.8L426.0 168.1L427.0 168.3L428.0 168.6L429.0 168.9L430.0 169.2L431.0 169.5L432.0 169.9L433.0 170.3L434.0 170.6L435.0 171.0L436.0 171.4L437.0 171.8L438.0 172.2L439.0 172.7L440.0 173.1L441.0 173.6L442.0 174.1L443.0 174.5L444.0 175.0L445.0 175.5L446.0 176.0L447.0 176.5L448.0 177.0L449.0 177.5L450.0 178.0L451.0 178.5L452.0 179.0L453.0 179.5L454.0 180.0L455.1 180.4L456.1 180.9L457.2 181.3L458.2 181.7L459.1 182.1L460.0 182.4L460.7 182.6L461.4 182.7L462.1 182.9L462.8 183.0L463.4 183.1L463.9 183.1L464.3 183.2L464.4 183.2" fill="none" stroke="#d95319" stroke-width="2.8" stroke-linejoin="round" stroke-dasharray="2.4 1.6"/>
<path d="M672.1999999999999 107.4L679.4 114.6M672.1999999999999 114.6L679.4 107.4" stroke="#ff00ff" stroke-width="4.6" fill="none"/>
<path d="M672.1999999999999 62.4L679.4 69.6M672.1999999999999 69.6L679.4 62.4" stroke="#ff0000" stroke-width="4.6" fill="none"/>
<circle cx="403.5" cy="167" r="5.3" stroke="#77ac30" stroke-width="4.5" fill="none"/>
<path d="M59.0 329.5L59.5 329.5L60.8 329.4L62.7 329.3L65.1 329.1L67.7 329.0L70.4 328.8L73.0 328.6L75.3 328.5L77.5 328.3L79.7 328.0L82.0 327.7L84.3 327.5L86.5 327.2L88.7 327.0L90.8 326.8L92.9 326.7L94.6 326.7L96.2 326.8L97.8 327.0L99.4 327.1L100.9 327.3L102.5 327.4L104.0 327.5L105.5 327.5L106.8 327.4L108.2 327.3L109.6 327.1L110.9 327.0L112.2 326.7L113.5 326.5L114.8 326.1L116.0 325.7L117.2 325.2L118.3 324.7L119.4 324.2L120.5 323.5L121.5 322.9L122.6 322.1L123.6 321.3L124.5 320.4L125.6 319.3L126.7 318.0L127.7 316.7L128.6 315.2L129.6 313.7L130.5 312.2L131.4 310.7L132.3 309.1L133.3 307.5L134.3 305.7L135.2 304.0L136.1 302.2L137.0 300.4L137.9 298.6L138.9 296.9L139.9 295.3L140.7 293.9L141.6 292.6L142.5 291.2L143.4 289.9L144.3 288.6L145.2 287.4L146.2 286.3L147.1 285.3L148.0 284.5L148.8 283.7L149.7 283.0L150.6 282.4L151.4 281.8L152.3 281.2L153.3 280.7L154.2 280.3L155.0 279.9L155.9 279.6L156.8 279.3L157.7 279.0L158.6 278.8L159.5 278.6L160.4 278.5L161.2 278.5L162.0 278.5L162.7 278.6L163.4 278.7L164.2 278.9L164.9 279.1L165.6 279.3L166.3 279.5L167.0 279.8L167.6 280.0L168.3 280.3L168.9 280.6L169.5 280.9L170.1 281.2L170.7 281.6L171.3 281.9L172.0 282.3L172.9 282.7L173.8 283.2L174.8 283.7L175.7 284.2L176.7 284.7L177.7 285.3L178.6 285.9L179.5 286.5L180.5 287.4L181.5 288.3L182.4 289.3L183.3 290.3L184.2 291.4L185.1 292.4L186.1 293.3L187.1 294.1L188.0 294.7L188.9 295.3L189.8 295.8L190.8 296.3L191.7 296.7L192.7 297.1L193.6 297.5L194.6 297.8L195.5 298.2L196.5 298.4L197.4 298.7L198.4 298.9L199.3 299.1L200.3 299.3L201.2 299.4L202.1 299.6L202.9 299.7L203.7 299.8L204.5 299.9L205.3 300.0L206.1 300.1L206.9 300.1L207.6 300.2L208.4 300.4L209.2 300.5L210.0 300.6L210.8 300.7L211.5 300.8L212.3 300.9L213.1 301.1L213.9 301.3L214.7 301.6L215.6 302.0L216.6 302.5L217.5 303.1L218.5 303.7L219.4 304.4L220.4 305.1L221.3 305.9L222.2 306.6L223.2 307.5L224.2 308.5L225.1 309.5L226.1 310.5L227.0 311.6L227.9 312.7L228.8 313.8L229.8 314.9L230.7 316.1L231.7 317.2L232.7 318.4L233.7 319.6L234.7 320.8L235.6 322.0L236.5 323.1L237.3 324.2L237.8 325.0L238.3 325.7L238.8 326.4L239.2 327.1L239.6 327.8L240.1 328.5L240.5 329.2L241.1 330.0L241.7 331.0L242.5 332.1L243.2 333.2L244.0 334.3L244.8 335.4L245.6 336.6L246.5 337.7L247.3 338.8L248.2 339.9L249.1 341.0L250.1 342.1L251.0 343.2L252.0 344.3L253.0 345.4L253.9 346.5L254.9 347.6L255.8 348.7L256.7 349.8L257.7 350.9L258.6 352.0L259.5 353.1L260.5 354.2L261.4 355.3L262.4 356.4L263.3 357.4L264.2 358.3L265.2 359.3L266.1 360.3L267.1 361.2L268.0 362.1L269.0 363.0L269.9 363.9L270.8 364.7L271.8 365.5L272.7 366.3L273.7 367.1L274.6 367.9L275.6 368.5L276.5 369.2L277.5 369.7L278.2 370.0L279.0 370.4L279.8 370.7L280.6 370.9L281.4 371.1L282.2 371.3L282.9 371.4L283.7 371.4L284.5 371.4L285.3 371.4L286.1 371.3L286.9 371.2L287.7 371.1L288.5 370.8L289.3 370.5L290.0 370.2L290.9 369.7L291.7 369.0L292.5 368.3L293.3 367.5L294.1 366.7L294.8 365.8L295.6 364.9L296.3 363.9L297.1 362.7L297.9 361.4L298.7 360.0L299.5 358.5L300.2 357.1L301.0 355.6L301.8 354.1L302.6 352.6L303.5 351.0L304.4 349.4L305.3 347.7L306.2 346.1L307.1 344.4L308.1 342.9L309.1 341.4L310.1 340.0L311.0 339.0L311.9 337.9L312.8 336.9L313.7 336.0L314.7 335.1L315.6 334.3L316.6 333.6L317.6 333.0L318.5 332.6L319.5 332.2L320.5 332.0L321.5 331.8L322.5 331.6L323.4 331.5L324.3 331.3L325.2 331.3L325.7 331.2L326.4 331.2L327.0 331.2L327.6 331.2L328.1 331.2L328.6 331.2L328.8 331.2L328.9 331.3" fill="none" stroke="#0000ff" stroke-width="2.8" stroke-linejoin="round" stroke-dasharray="2.4 1.6"/>
<path d="M59.0 329.5L59.5 329.5L60.8 329.4L62.7 329.3L65.1 329.1L67.7 329.0L70.4 328.8L73.0 328.6L75.3 328.5L77.5 328.3L79.7 328.0L82.0 327.7L84.3 327.5L86.5 327.2L88.7 327.0L90.8 326.8L92.9 326.7L94.6 326.7L96.2 326.8L97.8 327.0L99.4 327.1L100.9 327.3L102.5 327.4L104.0 327.5L105.5 327.5L106.8 327.4L108.2 327.3L109.6 327.1L110.9 327.0L112.2 326.7L113.5 326.5L114.8 326.1L116.0 325.7L117.2 325.2L118.3 324.7L119.4 324.2L120.5 323.5L121.5 322.9L122.6 322.1L123.6 321.3L124.5 320.4L125.6 319.3L126.7 318.0L127.7 316.7L128.6 315.2L129.6 313.7L130.5 312.2L131.4 310.7L132.3 309.1L133.3 307.5L134.3 305.7L135.2 304.0L136.1 302.2L137.0 300.4L137.9 298.6L138.9 296.9L139.9 295.3L140.7 293.9L141.6 292.6L142.5 291.2L143.4 289.9L144.3 288.6L145.2 287.4L146.2 286.3L147.1 285.3L148.0 284.5L148.8 283.7L149.7 283.0L150.6 282.4L151.4 281.8L152.3 281.2L153.3 280.7L154.2 280.3L155.0 279.9L155.9 279.5L156.9 279.2L157.8 278.9L158.7 278.6L159.6 278.5L160.4 278.4L161.2 278.5L161.8 278.7L162.4 278.9L163.0 279.3L163.5 279.6L164.1 280.1L164.6 280.5L165.2 281.0L165.7 281.5L166.5 282.2L167.2 282.9L168.0 283.7L168.8 284.5L169.6 285.3L170.4 286.2L171.2 287.0L172.0 287.8L172.9 288.6L173.8 289.4L174.8 290.2L175.7 291.0L176.7 291.7L177.6 292.5L178.6 293.3L179.5 294.1L180.5 294.9L181.4 295.7L182.3 296.5L183.3 297.3L184.2 298.1L185.2 298.9L186.1 299.6L187.1 300.4L188.0 301.0L188.9 301.7L189.8 302.3L190.8 302.9L191.7 303.5L192.7 304.0L193.6 304.5L194.6 304.9L195.5 305.1L196.4 305.3L197.4 305.5L198.3 305.6L199.3 305.7L200.2 305.7L201.2 305.8L202.1 305.9L203.1 306.0L204.0 306.0L205.0 306.1L205.9 306.1L206.9 306.2L207.8 306.3L208.7 306.4L209.7 306.6L210.6 306.9L211.6 307.2L212.5 307.6L213.5 308.0L214.4 308.5L215.3 309.0L216.3 309.4L217.2 309.9L218.2 310.4L219.1 310.8L220.1 311.3L221.0 311.8L222.0 312.3L222.9 312.9L223.8 313.5L224.7 314.2L225.7 315.1L226.7 316.1L227.6 317.2L228.5 318.4L229.5 319.6L230.4 320.8L231.3 321.9L232.3 322.9L233.2 323.9L234.2 324.8L235.1 325.7L236.1 326.6L237.1 327.5L238.0 328.3L238.9 329.2L239.8 330.0L240.5 330.7L241.1 331.3L241.8 332.0L242.4 332.7L243.0 333.3L243.6 333.9L244.2 334.5L244.8 335.0L245.3 335.5L245.8 335.9L246.2 336.4L246.7 336.8L247.1 337.2L247.6 337.5L248.1 337.8L248.6 338.0L249.2 338.1L249.8 338.1L250.4 338.0L251.0 337.8L251.7 337.7L252.3 337.5L253.0 337.5L253.6 337.5L254.3 337.7L254.9 337.9L255.6 338.1L256.2 338.4L256.8 338.7L257.4 339.1L258.0 339.6L258.6 340.0L259.3 340.8L260.0 341.6L260.6 342.6L261.2 343.6L261.7 344.6L262.3 345.7L263.0 346.7L263.6 347.6L264.4 348.4L265.1 349.3L265.9 350.1L266.7 350.9L267.5 351.6L268.3 352.4L269.1 353.1L269.9 353.9L270.7 354.5L271.5 355.2L272.3 355.8L273.0 356.4L273.8 357.0L274.6 357.6L275.4 358.3L276.2 358.9L277.0 359.5L277.8 360.2L278.6 360.9L279.3 361.6L280.1 362.3L280.9 362.9L281.7 363.5L282.5 363.9L283.1 364.2L283.7 364.5L284.4 364.7L285.0 365.0L285.7 365.1L286.3 365.2L286.9 365.2L287.5 365.2L288.2 365.0L288.8 364.7L289.4 364.3L290.0 363.8L290.7 363.3L291.3 362.7L291.9 362.0L292.5 361.4L293.5 360.3L294.4 359.0L295.3 357.7L296.3 356.2L297.2 354.6L298.2 353.1L299.1 351.5L300.1 350.1L301.0 348.7L301.9 347.2L302.8 345.7L303.8 344.3L304.7 342.8L305.6 341.4L306.6 340.1L307.6 338.8L308.5 337.7L309.5 336.7L310.5 335.6L311.6 334.7L312.6 333.7L313.5 332.8L314.4 332.0L315.1 331.3L315.5 330.8L315.8 330.4L316.0 330.0L316.3 329.7L316.5 329.3L316.8 329.0L317.2 328.7L317.6 328.5L318.8 328.1L320.4 327.9L322.2 327.8L324.1 327.8L326.0 327.8L327.5 327.9L328.5 327.9L328.9 328.0" fill="none" stroke="#bf40ff" stroke-width="2.8" stroke-linejoin="round"/>
<path d="M59.0 329.5L59.5 329.5L60.8 329.4L62.7 329.3L65.1 329.1L67.7 329.0L70.4 328.8L73.0 328.6L75.3 328.5L77.5 328.3L79.7 328.0L82.0 327.7L84.3 327.5L86.5 327.2L88.7 327.0L90.8 326.8L92.9 326.7L94.6 326.7L96.2 326.8L97.8 327.0L99.4 327.1L100.9 327.3L102.5 327.4L104.0 327.5L105.5 327.5L106.8 327.4L108.2 327.3L109.6 327.1L110.9 327.0L112.2 326.7L113.5 326.5L114.8 326.1L116.0 325.7L117.2 325.2L118.3 324.7L119.4 324.2L120.5 323.5L121.5 322.9L122.6 322.1L123.6 321.3L124.5 320.4L125.6 319.3L126.7 318.0L127.7 316.7L128.6 315.2L129.6 313.7L130.5 312.2L131.4 310.7L132.3 309.1L133.3 307.5L134.3 305.7L135.2 304.0L136.1 302.2L137.0 300.4L137.9 298.6L138.9 296.9L139.9 295.3L140.7 293.9L141.6 292.6L142.5 291.2L143.4 289.9L144.3 288.6L145.2 287.4L146.2 286.3L147.1 285.3L148.0 284.5L148.8 283.7L149.7 283.0L150.6 282.4L151.4 281.8L152.3 281.2L153.3 280.7L154.2 280.3L155.0 279.9L155.9 279.6L156.8 279.3L157.7 279.0L158.6 278.8L159.5 278.6L160.4 278.5L161.2 278.5L162.0 278.5L162.7 278.6L163.4 278.7L164.2 278.9L164.9 279.1L165.6 279.3L166.3 279.5L167.0 279.8L167.6 280.0L168.3 280.3L168.9 280.6L169.5 280.9L170.1 281.2L170.7 281.6L171.3 281.9L172.0 282.3L172.9 282.7L173.8 283.2L174.8 283.7L175.7 284.2L176.7 284.7L177.7 285.3L178.6 285.9L179.5 286.5L180.5 287.4L181.5 288.3L182.4 289.3L183.3 290.3L184.2 291.4L185.1 292.4L186.1 293.3L187.1 294.1L188.0 294.7L188.9 295.3L189.8 295.8L190.8 296.3L191.7 296.7L192.7 297.1L193.6 297.5L194.6 297.8L195.5 298.2L196.5 298.4L197.4 298.7L198.4 298.9L199.3 299.1L200.3 299.3L201.2 299.4L202.1 299.6L203.0 299.7L204.0 299.9L205.1 300.0L206.1 300.1L207.0 300.2L207.7 300.3L208.2 300.3L208.4 300.4" fill="none" stroke="#00b300" stroke-width="2.8" stroke-linejoin="round"/>
<path d="M59.0 329.5L59.5 329.5L60.8 329.4L62.7 329.3L65.1 329.1L67.7 329.0L70.4 328.8L73.0 328.6L75.3 328.5L77.5 328.3L79.7 328.0L82.0 327.7L84.3 327.5L86.5 327.2L88.7 327.0L90.8 326.8L92.9 326.7L94.6 326.7L96.2 326.8L97.8 327.0L99.4 327.1L100.9 327.3L102.5 327.4L104.0 327.5L105.5 327.5L106.8 327.4L108.2 327.3L109.6 327.1L110.9 327.0L112.2 326.7L113.5 326.5L114.8 326.1L116.0 325.7L117.2 325.2L118.3 324.7L119.4 324.2L120.5 323.5L121.5 322.9L122.6 322.1L123.6 321.3L124.5 320.4L125.6 319.3L126.7 318.0L127.7 316.7L128.6 315.2L129.6 313.7L130.5 312.2L131.4 310.7L132.3 309.1L133.3 307.5L134.3 305.7L135.2 304.0L136.1 302.2L137.0 300.4L137.9 298.6L138.9 296.9L139.9 295.3L140.7 293.9L141.6 292.6L142.5 291.2L143.4 289.9L144.3 288.6L145.2 287.4L146.2 286.3L147.1 285.3L148.0 284.5L148.8 283.7L149.7 283.0L150.6 282.4L151.4 281.8L152.3 281.2L153.3 280.7L154.2 280.3L155.0 279.9L155.9 279.6L156.8 279.3L157.7 279.0L158.6 278.8L159.5 278.6L160.4 278.5L161.2 278.5L162.0 278.5L162.7 278.6L163.4 278.7L164.2 278.9L164.9 279.1L165.6 279.3L166.3 279.5L167.0 279.8L167.6 280.0L168.3 280.3L168.9 280.6L169.5 280.9L170.1 281.2L170.7 281.5L171.3 281.9L172.0 282.3L172.9 282.8L173.8 283.3L174.8 283.9L175.7 284.5L176.7 285.1L177.7 285.8L178.6 286.5L179.5 287.3L180.5 288.3L181.5 289.4L182.5 290.6L183.5 291.8L184.4 293.1L185.3 294.3L186.2 295.5L187.1 296.6L187.7 297.4L188.4 298.3L189.0 299.1L189.6 299.9L190.2 300.7L190.8 301.4L191.4 302.2L192.1 302.9L192.7 303.5L193.3 304.1L193.9 304.7L194.5 305.3L195.1 305.9L195.7 306.4L196.4 306.9L197.1 307.4L197.9 307.8L198.8 308.2L199.8 308.5L200.7 308.8L201.7 309.1L202.7 309.4L203.7 309.6L204.6 309.9L205.6 310.1L206.5 310.3L207.5 310.5L208.4 310.7L209.4 310.9L210.3 311.1L211.2 311.3L212.2 311.6L213.1 312.0L214.1 312.4L215.1 312.8L216.0 313.3L217.0 313.7L217.9 314.3L218.8 314.8L219.7 315.4L220.6 316.1L221.4 316.8L222.2 317.6L222.9 318.4L223.7 319.2L224.5 320.1L225.2 320.9L226.0 321.7L226.8 322.5L227.5 323.3L228.2 324.1L229.0 325.0L229.7 325.8L230.5 326.5L231.4 327.3L232.3 328.0L233.4 328.6L234.7 329.2L236.0 329.7L237.4 330.2L238.7 330.7L240.0 331.2L241.2 331.8L242.3 332.5L243.1 333.2L243.8 333.9L244.4 334.7L245.0 335.5L245.5 336.3L246.1 337.1L246.7 337.9L247.3 338.8L248.2 339.8L249.1 340.9L250.0 341.9L251.0 343.0L252.0 344.2L253.0 345.3L253.9 346.4L254.9 347.6L255.8 348.8L256.8 350.1L257.7 351.4L258.7 352.7L259.6 354.0L260.5 355.3L261.5 356.5L262.4 357.6L263.2 358.6L264.0 359.6L264.8 360.7L265.6 361.7L266.4 362.6L267.2 363.3L268.0 363.7L268.7 363.9L269.2 363.8L269.7 363.5L270.2 363.0L270.6 362.5L271.1 361.9L271.5 361.2L272.0 360.7L272.4 360.1L272.9 359.6L273.4 359.0L273.9 358.4L274.3 357.7L274.8 357.2L275.3 356.7L275.7 356.5L276.2 356.4L276.7 356.5L277.2 357.0L277.6 357.6L278.1 358.3L278.6 359.1L279.0 359.9L279.5 360.7L280.0 361.4L280.4 362.1L280.9 362.9L281.4 363.7L281.8 364.5L282.3 365.2L282.8 365.8L283.3 366.2L283.7 366.4L284.2 366.3L284.7 366.1L285.1 365.7L285.6 365.2L286.1 364.6L286.6 364.0L287.0 363.3L287.5 362.6L288.1 361.6L288.8 360.4L289.4 359.1L290.0 357.8L290.6 356.4L291.2 355.0L291.9 353.8L292.5 352.6L293.1 351.7L293.7 350.9L294.3 350.1L295.0 349.3L295.6 348.5L296.3 347.8L296.9 347.0L297.5 346.3L298.2 345.7L298.8 345.1L299.4 344.5L300.1 343.9L300.7 343.3L301.4 342.7L302.0 342.0L302.6 341.3L303.3 340.3L304.0 339.3L304.6 338.2L305.3 337.1L305.9 335.9L306.5 334.7L307.1 333.6L307.6 332.5L308.0 331.6L308.3 330.6L308.5 329.7L308.8 328.8L309.0 327.9L309.3 327.0L309.7 326.2L310.1 325.5L310.6 324.8L311.2 324.2L311.8 323.6L312.4 323.0L313.1 322.6L313.8 322.2L314.5 321.9L315.1 321.7L315.7 321.7L316.4 321.8L317.0 321.9L317.6 322.2L318.3 322.5L318.9 322.8L319.5 323.1L320.1 323.5L320.8 323.8L321.4 324.2L322.1 324.7L322.7 325.1L323.3 325.6L324.0 326.0L324.6 326.4L325.2 326.7L325.7 326.9L326.3 327.2L326.9 327.4L327.5 327.6L328.1 327.7L328.5 327.9L328.8 327.9L328.9 328.0" fill="none" stroke="#d95319" stroke-width="2.8" stroke-linejoin="round" stroke-dasharray="2.4 1.6"/>
<path d="M324.09999999999997 325.29999999999995L331.3 332.5M324.09999999999997 332.5L331.3 325.29999999999995" stroke="#ff0000" stroke-width="4.6" fill="none"/>
<path d="M403.8 344.1L404.0 344.1L404.7 344.1L405.8 344.1L407.1 344.2L408.6 344.3L410.0 344.4L411.4 344.6L412.5 344.8L413.5 345.1L414.4 345.5L415.4 345.9L416.3 346.3L417.2 346.8L418.1 347.3L418.9 347.9L419.8 348.5L420.8 349.1L421.7 349.9L422.6 350.7L423.5 351.5L424.4 352.3L425.3 353.2L426.2 354.1L427.1 355.0L428.1 356.0L429.0 357.1L430.0 358.2L430.9 359.3L431.8 360.4L432.7 361.5L433.6 362.7L434.4 363.8L435.2 364.9L435.9 366.0L436.7 367.1L437.4 368.2L438.1 369.3L438.8 370.4L439.5 371.5L440.3 372.6L441.0 373.5L441.7 374.5L442.4 375.5L443.1 376.4L443.8 377.3L444.6 378.2L445.3 379.1L446.1 379.9L446.8 380.5L447.5 381.1L448.2 381.8L448.9 382.3L449.6 382.9L450.4 383.4L451.1 383.8L451.9 384.2L452.8 384.6L453.7 385.0L454.6 385.3L455.5 385.5L456.4 385.8L457.4 385.9L458.3 386.0L459.2 386.0L460.2 385.9L461.1 385.7L462.0 385.5L463.0 385.2L463.9 384.8L464.8 384.4L465.7 384.0L466.5 383.5L467.3 383.0L468.1 382.4L468.9 381.8L469.6 381.2L470.3 380.5L471.0 379.8L471.7 379.1L472.4 378.4L473.1 377.6L473.9 376.7L474.7 375.8L475.4 374.9L476.1 373.9L476.9 373.0L477.5 372.0L478.2 371.1L478.8 370.2L479.4 369.3L480.0 368.4L480.5 367.5L481.0 366.6L481.5 365.7L482.1 364.8L482.6 363.8L483.2 362.7L483.7 361.7L484.3 360.6L484.8 359.5L485.3 358.4L485.9 357.2L486.4 356.1L487.0 355.0L487.5 353.9L488.1 352.8L488.7 351.7L489.3 350.6L489.8 349.5L490.4 348.4L490.9 347.3L491.4 346.3L491.7 345.5L492.0 344.7L492.3 343.9L492.5 343.2L492.8 342.4L493.1 341.6L493.4 340.8L493.8 339.9L494.4 338.5L495.0 337.0L495.7 335.4L496.5 333.7L497.3 332.0L498.0 330.3L498.8 328.5L499.6 326.8L500.5 324.7L501.4 322.5L502.3 320.3L503.2 318.1L504.1 315.9L505.0 313.6L506.0 311.4L506.9 309.2L507.8 307.2L508.7 305.1L509.6 303.1L510.5 301.1L511.4 299.1L512.3 297.1L513.3 295.1L514.2 293.2L515.1 291.3L516.0 289.4L516.9 287.5L517.8 285.6L518.7 283.8L519.6 282.0L520.5 280.2L521.5 278.6L522.4 277.2L523.2 275.8L524.1 274.5L525.0 273.2L526.0 271.9L526.9 270.7L527.8 269.5L528.8 268.4L529.7 267.3L530.6 266.3L531.5 265.4L532.4 264.4L533.3 263.5L534.2 262.7L535.1 261.8L536.1 261.1L537.0 260.4L537.9 259.8L538.8 259.1L539.7 258.6L540.6 258.0L541.5 257.5L542.5 257.1L543.4 256.7L544.3 256.3L545.2 256.0L546.1 255.8L547.0 255.5L547.9 255.3L548.9 255.2L549.8 255.0L550.7 254.9L551.6 254.9L552.5 254.8L553.4 254.8L554.3 254.8L555.3 254.9L556.2 255.0L557.1 255.1L558.0 255.2L558.9 255.4L559.8 255.6L560.8 255.8L561.7 256.1L562.6 256.4L563.5 256.7L564.4 257.1L565.3 257.4L566.2 257.8L567.1 258.2L568.1 258.6L569.0 259.1L569.9 259.6L570.8 260.1L571.7 260.6L572.6 261.1L573.5 261.6L574.5 262.1L575.4 262.7L576.4 263.2L577.3 263.8L578.2 264.4L579.1 264.9L579.9 265.4L580.5 265.9L581.2 266.3L581.8 266.7L582.3 267.1L582.9 267.5L583.5 267.9L584.0 268.3L584.6 268.8L585.2 269.3L585.8 269.9L586.4 270.5L586.9 271.0L587.5 271.6L588.1 272.2L588.6 272.8L589.2 273.4L589.8 274.0L590.4 274.5L590.9 275.1L591.5 275.6L592.1 276.2L592.7 276.8L593.2 277.4L593.8 278.0L594.4 278.7L595.0 279.4L595.6 280.2L596.2 280.9L596.7 281.7L597.3 282.5L597.8 283.3L598.4 284.1L599.0 285.0L599.6 286.0L600.2 286.9L600.7 287.9L601.3 288.9L601.9 289.9L602.4 290.8L603.0 291.8L603.6 292.8L604.2 293.7L604.7 294.7L605.3 295.7L605.9 296.6L606.4 297.6L607.0 298.5L607.6 299.5L608.2 300.4L608.7 301.3L609.3 302.2L609.9 303.0L610.4 303.9L611.0 304.7L611.6 305.6L612.2 306.4L612.8 307.1L613.3 307.8L613.9 308.5L614.5 309.2L615.0 309.9L615.6 310.5L616.2 311.1L616.8 311.7L617.4 312.3L617.9 312.8L618.5 313.3L619.1 313.8L619.6 314.3L620.2 314.7L620.8 315.2L621.4 315.6L622.0 315.9L622.5 316.3L623.1 316.6L623.6 316.8L624.2 317.1L624.8 317.4L625.4 317.6L626.0 317.9L626.7 318.1L627.5 318.4L628.2 318.6L629.0 318.8L629.8 319.1L630.6 319.3L631.4 319.5L632.1 319.7L632.9 320.0L633.7 320.2L634.5 320.4L635.3 320.6L636.1 320.9L636.8 321.1L637.6 321.4L638.3 321.7L638.9 322.0L639.5 322.4L640.1 322.7L640.7 323.1L641.2 323.5L641.8 323.9L642.3 324.3L642.9 324.8L643.5 325.3L644.1 325.8L644.6 326.4L645.2 327.0L645.8 327.6L646.3 328.2L646.9 328.8L647.5 329.4L648.1 330.0L648.6 330.6L649.2 331.1L649.8 331.7L650.3 332.3L650.9 332.9L651.5 333.4L652.1 334.0L652.6 334.5L653.2 335.0L653.7 335.5L654.3 336.0L654.9 336.5L655.4 337.0L656.1 337.4L656.7 337.8L657.4 338.2L658.1 338.5L658.9 338.8L659.7 339.1L660.5 339.4L661.2 339.6L662.0 339.9L662.8 340.1L663.6 340.4L664.4 340.6L665.2 340.8L665.9 341.0L666.7 341.1L667.5 341.3L668.2 341.5L669.0 341.7L669.6 341.8L670.4 342.0L671.1 342.2L671.9 342.3L672.5 342.5L673.1 342.6L673.4 342.7L673.6 342.7" fill="none" stroke="#0000ff" stroke-width="2.8" stroke-linejoin="round" stroke-dasharray="2.4 1.6"/>
<path d="M403.8 343.6L403.9 343.7L404.4 343.7L405.1 343.7L406.0 343.7L406.9 343.8L407.9 343.8L408.8 343.9L409.6 344.1L410.3 344.3L411.1 344.5L411.8 344.7L412.6 345.0L413.3 345.2L414.0 345.6L414.7 345.9L415.4 346.3L416.2 346.7L416.9 347.2L417.7 347.7L418.4 348.2L419.1 348.8L419.9 349.4L420.6 350.0L421.3 350.7L422.0 351.4L422.8 352.1L423.5 352.9L424.3 353.8L425.0 354.6L425.7 355.5L426.4 356.3L427.1 357.2L427.9 358.2L428.6 359.2L429.3 360.2L430.1 361.2L430.8 362.2L431.5 363.2L432.2 364.2L433.0 365.3L433.7 366.3L434.4 367.3L435.2 368.4L436.0 369.4L436.7 370.4L437.4 371.4L438.1 372.4L438.8 373.3L439.3 374.0L439.8 374.7L440.3 375.3L440.8 376.0L441.3 376.6L441.7 377.2L442.1 377.7L442.4 378.1L442.6 378.3L442.7 378.5L442.9 378.6L443.0 378.8L443.1 378.9L443.2 379.0L443.3 379.1L443.5 379.1L443.6 379.1L443.7 379.0L443.9 378.9L444.0 378.7L444.1 378.5L444.3 378.3L444.4 378.0L444.6 377.8L445.2 377.2L445.8 376.5L446.5 375.6L447.2 374.7L448.1 373.8L448.9 372.8L449.7 371.8L450.5 370.8L451.4 369.7L452.3 368.5L453.2 367.3L454.1 366.1L455.0 364.8L455.9 363.6L456.9 362.4L457.8 361.2L458.7 360.0L459.6 358.8L460.6 357.6L461.5 356.5L462.5 355.3L463.4 354.2L464.3 353.1L465.1 352.1L465.7 351.3L466.3 350.6L466.8 349.9L467.4 349.1L467.9 348.5L468.5 347.8L469.0 347.2L469.5 346.6L469.8 346.1L470.1 345.7L470.5 345.3L470.8 344.9L471.1 344.6L471.4 344.2L471.7 343.9L472.1 343.6L472.4 343.5L472.7 343.3L473.0 343.1L473.3 343.0L473.6 342.9L473.9 342.8L474.2 342.7L474.6 342.6L475.1 342.6L475.6 342.7L476.2 342.8L476.8 342.9L477.4 343.1L478.0 343.2L478.5 343.3L478.9 343.4L479.2 343.4L479.4 343.3L479.5 343.3L479.7 343.3L479.9 343.2L480.0 343.2L480.2 343.1L480.4 343.1L480.7 342.9L480.9 342.7L481.2 342.5L481.4 342.3L481.7 342.1L482.0 341.9L482.3 341.7L482.6 341.6L482.9 341.5L483.3 341.5L483.6 341.6L484.0 341.6L484.3 341.7L484.7 341.7L485.1 341.8L485.5 341.9L486.0 342.0L486.6 342.1L487.2 342.3L487.7 342.4L488.3 342.6L488.9 342.7L489.4 342.9L489.9 343.1L490.2 343.2L490.5 343.4L490.8 343.6L491.1 343.7L491.3 343.9L491.6 344.0L491.8 344.1L492.1 344.1L492.3 344.0L492.6 343.8L492.8 343.6L493.0 343.3L493.3 343.0L493.5 342.7L493.7 342.5L494.0 342.2L494.3 341.9L494.6 341.7L494.9 341.4L495.2 341.2L495.6 340.9L495.9 340.6L496.3 340.3L496.7 339.9L497.6 338.9L498.5 337.6L499.5 336.2L500.6 334.6L501.7 333.0L502.8 331.3L503.9 329.6L505.0 328.0L506.2 326.3L507.4 324.5L508.7 322.7L509.9 320.9L511.2 319.1L512.5 317.3L513.7 315.5L515.0 313.7L516.3 311.9L517.6 310.0L518.9 308.2L520.2 306.3L521.5 304.5L522.7 302.8L523.9 301.1L525.0 299.5L525.8 298.4L526.6 297.3L527.3 296.2L528.0 295.1L528.7 294.1L529.4 293.2L530.0 292.3L530.5 291.6L530.8 291.2L531.0 290.8L531.2 290.5L531.5 290.2L531.7 289.9L531.9 289.6L532.1 289.4L532.4 289.2L532.6 289.1L532.9 289.0L533.1 289.0L533.3 288.9L533.6 288.9L533.8 288.9L534.2 288.9L534.5 288.9L535.4 288.9L536.5 288.8L537.8 288.8L539.1 288.8L540.6 288.9L542.1 288.9L543.5 288.9L545.0 288.9L546.7 288.9L548.6 288.9L550.4 288.9L552.3 288.9L554.3 288.8L556.2 288.8L558.1 288.8L560.0 288.8L561.9 288.8L563.9 288.8L566.0 288.8L568.0 288.8L570.0 288.8L571.8 288.7L573.5 288.7L575.0 288.6L575.8 288.5L576.4 288.5L577.1 288.4L577.7 288.4L578.3 288.3L578.8 288.2L579.4 288.1L580.0 288.0L580.6 287.8L581.2 287.7L581.8 287.5L582.3 287.3L582.9 287.2L583.5 286.9L584.0 286.7L584.6 286.4L585.2 286.1L585.8 285.6L586.4 285.1L587.0 284.6L587.6 284.1L588.2 283.7L588.7 283.5L589.2 283.4L589.5 283.4L589.8 283.5L590.1 283.7L590.4 283.9L590.7 284.1L591.0 284.4L591.2 284.6L591.5 284.9L591.8 285.3L592.1 285.7L592.4 286.2L592.7 286.7L592.9 287.2L593.2 287.5L593.5 287.8L593.8 288.0L594.1 288.0L594.4 287.9L594.6 287.7L594.9 287.5L595.2 287.2L595.5 287.0L595.8 286.7L596.1 286.4L596.5 286.1L596.8 285.7L597.2 285.3L597.6 284.8L597.9 284.4L598.3 284.0L598.7 283.7L599.2 283.4L599.6 283.2L600.1 283.0L600.5 282.9L601.0 282.8L601.5 282.7L602.0 282.6L602.5 282.6L603.0 282.6L603.5 282.6L604.0 282.7L604.5 282.7L605.0 282.8L605.5 282.9L605.9 283.0L606.4 283.2L606.8 283.4L607.3 283.6L607.7 283.9L608.1 284.1L608.4 284.5L608.8 284.8L609.2 285.1L609.5 285.4L609.9 285.7L610.2 285.9L610.5 286.2L610.8 286.4L611.1 286.7L611.4 286.9L611.7 287.1L611.9 287.2L612.2 287.2L612.5 287.1L612.7 286.8L612.9 286.4L613.2 286.0L613.4 285.6L613.6 285.3L613.8 285.0L614.0 284.9L614.3 285.0L614.5 285.2L614.8 285.5L615.0 285.9L615.2 286.3L615.5 286.7L615.8 287.0L616.0 287.2L616.3 287.3L616.6 287.4L616.9 287.5L617.2 287.5L617.5 287.5L617.8 287.5L618.1 287.5L618.3 287.5L618.6 287.5L618.9 287.4L619.2 287.3L619.5 287.3L619.8 287.2L620.1 287.1L620.4 287.0L620.6 286.9L620.9 286.8L621.2 286.8L621.5 286.8L621.8 286.7L622.1 286.7L622.4 286.6L622.7 286.6L622.9 286.4L623.2 286.3L623.5 286.0L623.8 285.7L624.1 285.5L624.4 285.2L624.7 284.9L624.9 284.6L625.2 284.4L625.5 284.3L625.8 284.2L626.1 284.1L626.4 284.0L626.7 283.9L626.9 283.9L627.2 283.8L627.5 283.8L627.9 283.9L628.3 283.9L628.7 284.0L629.1 284.2L629.5 284.3L629.9 284.5L630.3 284.7L630.6 284.9L630.9 285.1L631.3 285.4L631.6 285.6L631.8 285.9L632.1 286.2L632.4 286.5L632.7 286.9L632.9 287.2L633.2 287.7L633.5 288.2L633.8 288.8L634.1 289.4L634.3 290.0L634.6 290.6L634.9 291.2L635.2 291.8L635.6 292.5L635.9 293.2L636.3 293.9L636.7 294.6L637.1 295.3L637.5 295.9L637.9 296.6L638.3 297.2L638.6 297.7L639.0 298.2L639.4 298.6L639.7 299.1L640.1 299.5L640.5 299.9L640.9 300.3L641.3 300.7L641.9 301.1L642.4 301.4L643.0 301.7L643.7 301.9L644.3 302.2L644.9 302.5L645.4 302.9L646.0 303.3L646.4 303.9L646.9 304.5L647.3 305.1L647.6 305.8L648.0 306.5L648.3 307.2L648.7 308.0L649.0 308.7L649.4 309.4L649.8 310.2L650.1 311.0L650.5 311.7L650.9 312.5L651.2 313.3L651.6 314.1L652.1 314.8L652.6 315.6L653.1 316.4L653.7 317.2L654.3 317.9L654.9 318.7L655.5 319.5L656.1 320.2L656.7 321.0L657.3 321.6L657.8 322.3L658.4 323.0L659.0 323.7L659.6 324.3L660.1 325.0L660.7 325.7L661.3 326.3L661.9 327.0L662.4 327.6L663.0 328.3L663.6 329.0L664.2 329.6L664.8 330.3L665.3 331.0L665.9 331.7L666.5 332.4L667.1 333.2L667.6 334.0L668.2 334.8L668.8 335.6L669.4 336.3L669.9 337.1L670.5 337.8L671.0 338.5L671.6 339.3L672.3 340.1L672.9 340.9L673.5 341.6L673.9 342.2L674.2 342.6L674.3 342.7" fill="none" stroke="#bf40ff" stroke-width="2.8" stroke-linejoin="round"/>
<path d="M403.8 343.6L403.9 343.7L404.4 343.7L405.1 343.7L406.0 343.7L406.9 343.8L407.9 343.8L408.8 343.9L409.6 344.1L410.3 344.3L411.1 344.5L411.8 344.7L412.6 345.0L413.3 345.2L414.0 345.6L414.7 345.9L415.4 346.3L416.2 346.7L416.9 347.2L417.7 347.7L418.4 348.2L419.1 348.8L419.9 349.4L420.6 350.0L421.3 350.7L422.0 351.4L422.8 352.1L423.5 352.9L424.3 353.8L425.0 354.6L425.7 355.5L426.4 356.3L427.1 357.2L427.9 358.2L428.6 359.2L429.3 360.2L430.1 361.2L430.8 362.2L431.5 363.2L432.2 364.2L433.0 365.3L433.7 366.3L434.4 367.3L435.2 368.3L435.9 369.3L436.7 370.3L437.4 371.3L438.1 372.3L438.8 373.3L439.4 374.1L440.0 375.0L440.5 375.8L441.1 376.6L441.6 377.4L442.1 378.2L442.7 379.1L443.2 379.9L443.7 380.6L444.1 381.4L444.6 382.2L445.0 383.0L445.5 383.7L445.9 384.4L446.4 385.1L446.8 385.7L447.2 386.1L447.6 386.6L447.9 387.1L448.3 387.5L448.7 387.9L449.1 388.1L449.4 388.3L449.7 388.3L450.1 388.2L450.4 387.8L450.6 387.4L450.9 386.8L451.1 386.2L451.4 385.5L451.7 384.8L451.9 384.2L452.3 383.5L452.6 382.7L453.0 381.9L453.3 381.1L453.7 380.3L454.1 379.4L454.5 378.6L454.9 377.7L455.4 376.6L455.9 375.4L456.4 374.2L457.0 373.0L457.5 371.8L458.1 370.6L458.7 369.4L459.2 368.2L459.8 367.0L460.3 365.8L460.9 364.6L461.4 363.3L462.0 362.1L462.5 361.0L463.1 359.8L463.6 358.7L464.1 357.7L464.5 356.7L465.0 355.8L465.5 354.8L465.9 353.9L466.4 353.0L466.8 352.2L467.3 351.4L467.6 350.8L468.0 350.2L468.4 349.6L468.8 349.0L469.2 348.5L469.5 348.1L469.7 347.8L469.7 347.7" fill="none" stroke="#d95319" stroke-width="2.8" stroke-linejoin="round" stroke-dasharray="2.4 1.6"/>
<path d="M670.8 339.59999999999997L678.0 346.8M670.8 346.8L678.0 339.59999999999997" stroke="#ff0000" stroke-width="4.6" fill="none"/>
<path d="M57.3 535.7L57.4 535.7L57.8 535.6L58.3 535.6L58.9 535.4L59.7 535.3L60.4 535.2L61.1 535.1L61.7 535.0L62.2 534.9L62.8 534.9L63.3 534.8L63.8 534.8L64.4 534.7L64.9 534.7L65.5 534.6L66.1 534.6L66.7 534.5L67.5 534.3L68.2 534.2L68.9 534.1L69.7 534.0L70.4 533.8L71.2 533.7L71.9 533.5L72.6 533.4L73.4 533.2L74.1 533.1L74.8 532.9L75.5 532.7L76.3 532.6L77.0 532.5L77.7 532.4L78.5 532.3L79.2 532.3L80.0 532.2L80.7 532.2L81.5 532.2L82.2 532.2L82.9 532.3L83.6 532.4L84.2 532.5L84.7 532.6L85.3 532.8L85.8 532.9L86.4 533.1L86.9 533.3L87.4 533.6L88.0 533.8L88.5 534.1L89.1 534.5L89.6 534.9L90.1 535.3L90.7 535.7L91.2 536.1L91.8 536.4L92.3 536.8L92.9 537.0L93.4 537.2L94.0 537.4L94.5 537.6L95.1 537.8L95.6 538.0L96.2 538.1L96.7 538.2L97.3 538.3L97.8 538.4L98.4 538.5L98.9 538.5L99.5 538.5L100.0 538.5L100.5 538.5L101.1 538.5L101.6 538.5L102.2 538.4L102.8 538.3L103.3 538.3L103.9 538.1L104.4 538.0L105.0 537.8L105.5 537.5L106.1 537.1L106.7 536.5L107.2 535.9L107.8 535.3L108.3 534.6L108.8 533.8L109.3 533.1L109.9 532.4L110.4 531.5L111.0 530.7L111.6 529.8L112.1 528.9L112.7 528.0L113.2 527.0L113.7 526.1L114.2 525.1L114.8 523.9L115.4 522.7L115.9 521.4L116.5 520.1L117.0 518.8L117.6 517.5L118.1 516.2L118.6 514.9L119.2 513.4L119.7 512.0L120.3 510.5L120.8 509.0L121.4 507.6L121.9 506.1L122.4 504.6L123.0 503.2L123.5 501.8L124.1 500.3L124.6 498.9L125.1 497.5L125.6 496.1L126.2 494.7L126.8 493.4L127.4 492.2L127.9 491.3L128.4 490.3L128.9 489.4L129.4 488.5L130.0 487.7L130.6 487.0L131.1 486.3L131.8 485.7L132.2 485.2L132.7 484.8L133.2 484.4L133.8 484.1L134.3 483.8L134.8 483.6L135.3 483.5L135.8 483.5L136.4 483.6L136.9 483.8L137.4 484.1L137.9 484.4L138.4 484.9L138.9 485.3L139.3 485.9L139.8 486.4L140.3 487.2L140.9 488.2L141.4 489.2L141.9 490.3L142.3 491.5L142.7 492.6L143.1 493.6L143.4 494.4L143.6 494.8L143.7 495.2L143.8 495.5L143.9 495.8L144.0 496.2L144.1 496.5L144.2 496.9L144.4 497.3L144.8 498.4L145.2 499.7L145.8 501.2L146.3 502.7L147.0 504.4L147.6 506.0L148.2 507.5L148.8 509.0L149.3 510.3L149.8 511.6L150.4 512.9L150.9 514.2L151.5 515.4L152.0 516.7L152.6 518.0L153.1 519.2L153.7 520.5L154.2 521.8L154.8 523.1L155.3 524.4L155.9 525.7L156.4 527.0L157.0 528.2L157.5 529.5L158.0 530.6L158.6 531.7L159.1 532.9L159.7 534.0L160.2 535.1L160.8 536.1L161.3 537.2L161.9 538.2L162.4 539.1L163.0 540.0L163.6 540.9L164.2 541.7L164.8 542.6L165.3 543.4L165.8 544.1L166.3 544.8L166.5 545.2L166.7 545.5L166.8 545.8L167.0 546.1L167.1 546.4L167.3 546.8L167.5 547.1L167.7 547.5L168.3 548.3L168.9 549.3L169.6 550.3L170.4 551.4L171.2 552.5L172.0 553.6L172.8 554.6L173.6 555.5L174.2 556.3L174.9 557.0L175.5 557.7L176.2 558.3L176.8 558.9L177.5 559.5L178.1 560.0L178.7 560.4L179.1 560.6L179.4 560.8L179.8 561.0L180.1 561.1L180.5 561.2L180.9 561.3L181.2 561.4L181.6 561.4L182.0 561.4L182.5 561.3L182.9 561.2L183.4 561.1L183.9 561.0L184.3 560.8L184.8 560.6L185.3 560.4L185.8 560.1L186.4 559.7L186.9 559.4L187.5 559.0L188.0 558.5L188.6 558.0L189.1 557.5L189.6 557.0L190.2 556.3L190.8 555.5L191.3 554.7L191.9 553.9L192.4 553.0L192.9 552.1L193.5 551.3L194.0 550.4L194.6 549.7L195.1 548.9L195.6 548.2L196.2 547.5L196.7 546.7L197.3 546.0L197.8 545.3L198.4 544.6L198.9 543.9L199.5 543.2L200.1 542.5L200.6 541.8L201.2 541.1L201.8 540.5L202.3 540.0L202.8 539.5L203.1 539.2L203.3 538.9L203.6 538.7L203.9 538.5L204.1 538.3L204.4 538.1L204.7 538.0L205.0 538.0L205.4 538.2L205.8 538.5L206.3 539.0L206.8 539.6L207.2 540.3L207.7 541.0L208.2 541.7L208.6 542.4L209.2 543.3L209.7 544.2L210.3 545.2L210.8 546.3L211.4 547.3L211.9 548.4L212.4 549.4L213.0 550.4L213.5 551.4L214.1 552.4L214.6 553.3L215.2 554.3L215.8 555.2L216.3 556.1L216.8 557.0L217.4 557.7L217.8 558.3L218.1 558.7L218.5 559.2L218.9 559.6L219.2 560.0L219.6 560.4L219.9 560.9L220.3 561.4L220.7 562.0L221.0 562.6L221.4 563.2L221.8 563.9L222.1 564.6L222.5 565.2L222.8 565.9L223.2 566.5L223.6 567.1L223.9 567.7L224.3 568.3L224.6 568.8L225.0 569.4L225.4 569.9L225.7 570.4L226.1 570.9L226.5 571.2L226.8 571.6L227.1 571.9L227.5 572.1L227.9 572.4L228.2 572.7L228.6 572.9L229.1 573.1L229.5 573.2L230.1 573.4L230.6 573.5L231.2 573.5L231.8 573.6L232.3 573.7L232.9 573.7L233.4 573.8L233.9 573.9L234.4 574.0L234.8 574.1L235.3 574.2L235.8 574.3L236.2 574.4L236.8 574.5L237.3 574.5L238.1 574.6L239.0 574.6L239.9 574.6L240.8 574.6L241.8 574.6L242.7 574.6L243.7 574.6L244.6 574.5L245.5 574.5L246.4 574.4L247.3 574.4L248.3 574.3L249.2 574.2L250.1 574.1L251.0 574.0L251.9 573.8L252.8 573.6L253.8 573.4L254.7 573.2L255.6 572.9L256.6 572.7L257.5 572.3L258.4 572.0L259.2 571.6L260.0 571.2L260.8 570.7L261.5 570.1L262.3 569.6L263.0 569.0L263.7 568.4L264.4 567.8L265.0 567.2L265.6 566.7L266.2 566.2L266.8 565.6L267.3 565.1L267.8 564.5L268.4 564.0L268.9 563.4L269.4 562.8L270.0 562.2L270.5 561.6L271.1 561.0L271.6 560.4L272.2 559.8L272.7 559.1L273.3 558.4L273.8 557.7L274.4 556.9L275.0 556.1L275.5 555.2L276.1 554.3L276.6 553.3L277.2 552.4L277.7 551.4L278.2 550.4L278.7 549.4L279.2 548.3L279.6 547.2L280.1 546.1L280.5 545.0L281.0 543.8L281.4 542.7L281.8 541.7L282.2 540.7L282.6 539.8L283.0 539.0L283.4 538.1L283.8 537.2L284.1 536.3L284.5 535.4L284.7 534.4L285.0 533.2L285.2 531.9L285.4 530.6L285.5 529.3L285.7 527.9L285.8 526.5L286.0 525.1L286.2 523.6L286.6 521.7L287.0 519.8L287.4 517.7L287.9 515.6L288.4 513.5L288.9 511.5L289.4 509.5L289.9 507.6L290.2 506.0L290.6 504.5L291.0 503.0L291.3 501.5L291.7 500.1L292.0 498.7L292.4 497.3L292.8 495.9L293.1 494.5L293.4 493.1L293.8 491.7L294.1 490.4L294.5 489.0L294.8 487.8L295.2 486.7L295.7 485.7L296.0 485.1L296.4 484.5L296.7 484.0L297.1 483.5L297.5 483.1L297.9 482.7L298.2 482.3L298.6 482.0L298.9 481.8L299.2 481.6L299.4 481.4L299.7 481.3L300.0 481.1L300.3 481.0L300.5 481.0L300.8 481.0L301.1 481.1L301.4 481.2L301.6 481.4L301.9 481.6L302.2 481.8L302.5 482.1L302.7 482.4L303.0 482.7L303.4 483.3L303.8 483.9L304.1 484.6L304.5 485.3L304.9 486.1L305.2 486.9L305.6 487.7L305.9 488.6L306.3 489.7L306.7 490.9L307.1 492.2L307.4 493.5L307.8 494.8L308.1 496.2L308.5 497.5L308.8 498.8L309.2 500.1L309.6 501.4L309.9 502.7L310.3 504.0L310.6 505.3L311.0 506.6L311.4 507.8L311.8 509.0L312.1 510.0L312.4 511.0L312.8 511.9L313.2 512.8L313.5 513.7L313.9 514.6L314.3 515.5L314.7 516.3L315.0 517.0L315.4 517.7L315.7 518.3L316.1 519.0L316.4 519.6L316.8 520.2L317.2 520.8L317.6 521.4L318.0 522.0L318.4 522.6L318.9 523.1L319.4 523.7L319.8 524.2L320.3 524.8L320.8 525.3L321.2 525.8L321.7 526.3L322.2 526.7L322.6 527.2L323.1 527.6L323.6 528.1L324.0 528.5L324.5 529.0L324.9 529.5L325.3 530.0L325.8 530.5L326.3 531.1L326.7 531.7L327.2 532.3L327.5 532.7L327.7 533.0L327.8 533.1" fill="none" stroke="#0000ff" stroke-width="2.8" stroke-linejoin="round" stroke-dasharray="2.4 1.6"/>
<path d="M57.3 536.0L57.5 536.0L58.1 536.0L59.0 535.9L60.1 535.8L61.2 535.6L62.5 535.5L63.6 535.2L64.6 535.0L65.5 534.7L66.5 534.3L67.4 533.8L68.4 533.4L69.3 532.9L70.2 532.4L71.1 532.0L71.9 531.6L72.5 531.4L73.1 531.1L73.6 530.9L74.2 530.6L74.7 530.4L75.2 530.3L75.8 530.2L76.3 530.2L76.8 530.3L77.2 530.4L77.7 530.7L78.2 530.9L78.6 531.3L79.1 531.6L79.5 532.0L79.9 532.4L80.5 533.0L81.0 533.7L81.5 534.6L82.0 535.4L82.5 536.2L82.9 536.9L83.4 537.3L83.9 537.5L84.3 537.3L84.7 536.8L85.2 536.1L85.6 535.2L86.0 534.4L86.4 533.5L86.8 532.8L87.2 532.4L87.5 532.2L87.8 532.0L88.1 531.8L88.3 531.7L88.6 531.6L88.9 531.6L89.2 531.6L89.4 531.6L89.8 531.9L90.2 532.4L90.5 533.1L90.9 533.8L91.2 534.6L91.6 535.4L91.9 536.2L92.3 536.8L92.7 537.2L93.0 537.6L93.4 538.1L93.8 538.5L94.1 538.9L94.5 539.1L94.9 539.3L95.3 539.4L95.7 539.2L96.1 538.8L96.5 538.3L96.9 537.7L97.3 537.1L97.7 536.6L98.1 536.2L98.5 536.0L98.8 536.1L99.1 536.3L99.4 536.5L99.8 536.9L100.1 537.2L100.4 537.6L100.7 537.9L101.1 538.2L101.4 538.5L101.8 538.7L102.2 539.0L102.6 539.3L102.9 539.5L103.3 539.6L103.7 539.7L104.0 539.7L104.5 539.4L105.0 538.8L105.4 538.0L105.9 537.1L106.3 536.2L106.8 535.2L107.2 534.4L107.7 533.8L107.9 533.6L108.2 533.3L108.5 533.1L108.7 533.0L109.0 532.8L109.3 532.6L109.6 532.4L109.9 532.1L110.4 531.5L110.9 530.7L111.5 529.9L112.0 529.0L112.6 528.0L113.2 527.1L113.7 526.1L114.2 525.1L114.8 523.9L115.4 522.7L115.9 521.4L116.5 520.2L117.0 518.8L117.6 517.5L118.1 516.2L118.6 514.9L119.2 513.4L119.7 512.0L120.3 510.5L120.8 509.0L121.4 507.6L121.9 506.1L122.4 504.6L123.0 503.2L123.5 501.8L124.1 500.3L124.6 498.9L125.1 497.5L125.6 496.1L126.2 494.7L126.8 493.4L127.4 492.2L127.9 491.3L128.4 490.3L128.9 489.4L129.4 488.5L130.0 487.7L130.6 487.0L131.1 486.3L131.8 485.7L132.2 485.2L132.7 484.8L133.2 484.4L133.8 484.1L134.3 483.8L134.8 483.6L135.3 483.5L135.8 483.5L136.4 483.6L136.9 483.8L137.4 484.1L137.9 484.4L138.4 484.9L138.9 485.3L139.3 485.9L139.8 486.4L140.3 487.2L140.9 488.2L141.4 489.2L141.9 490.3L142.3 491.5L142.7 492.6L143.1 493.6L143.4 494.4L143.6 494.8L143.7 495.2L143.8 495.5L143.9 495.8L144.0 496.2L144.1 496.5L144.2 496.9L144.4 497.3L144.8 498.4L145.2 499.7L145.8 501.2L146.3 502.7L147.0 504.4L147.6 506.0L148.2 507.5L148.8 509.0L149.3 510.3L149.9 511.7L150.4 513.0L151.0 514.2L151.6 515.5L152.1 516.8L152.6 518.0L153.1 519.2L153.6 520.3L154.0 521.4L154.3 522.4L154.7 523.5L155.1 524.5L155.4 525.5L155.7 526.4L156.1 527.3L156.3 527.8L156.5 528.2L156.7 528.7L156.9 529.1L157.0 529.5L157.2 530.0L157.4 530.4L157.5 530.9L157.7 531.6L157.8 532.4L157.9 533.1L157.9 533.9L158.0 534.7L158.1 535.6L158.1 536.4L158.2 537.3L158.4 538.3L158.6 539.4L158.7 540.6L158.9 541.7L159.1 542.8L159.3 544.0L159.5 545.0L159.7 546.1L159.9 546.9L160.0 547.6L160.2 548.4L160.3 549.2L160.5 549.9L160.7 550.6L160.9 551.3L161.2 551.9L161.5 552.4L161.8 552.9L162.2 553.3L162.6 553.7L163.0 554.2L163.4 554.6L163.7 555.0L164.1 555.5L164.5 556.2L164.9 556.9L165.2 557.6L165.6 558.3L165.9 559.1L166.3 559.9L166.7 560.6L167.0 561.4L167.4 562.2L167.7 563.2L168.1 564.1L168.5 565.1L168.8 566.0L169.2 566.8L169.6 567.5L169.9 568.0L170.1 568.1L170.3 568.3L170.5 568.4L170.7 568.6L170.9 568.7L171.0 568.7L171.2 568.7L171.4 568.7L171.6 568.5L171.8 568.2L172.0 567.7L172.1 567.2L172.3 566.6L172.4 566.0L172.6 565.5L172.8 565.0L173.1 564.6L173.3 564.1L173.6 563.7L173.9 563.2L174.2 562.8L174.5 562.4L174.7 562.2L175.0 562.1L175.3 562.2L175.6 562.3L175.9 562.5L176.1 562.8L176.4 563.2L176.7 563.6L177.0 563.9L177.2 564.3L177.5 564.8L177.8 565.5L178.1 566.2L178.4 566.9L178.6 567.6L178.9 568.2L179.1 568.5L179.4 568.7L179.7 568.6L180.0 568.3L180.3 567.9L180.6 567.4L180.8 566.9L181.1 566.2L181.4 565.6L181.6 565.0L181.9 564.2L182.1 563.4L182.3 562.4L182.4 561.4L182.6 560.5L182.7 559.5L182.9 558.6L183.1 557.7L183.2 557.1L183.4 556.5L183.5 555.9L183.7 555.3L183.8 554.7L184.0 554.2L184.3 553.8L184.5 553.4L184.8 553.1L185.0 552.8L185.3 552.5L185.6 552.3L185.9 552.1L186.2 552.0L186.4 551.9L186.7 551.9L187.0 552.0L187.3 552.3L187.6 552.6L187.9 553.0L188.2 553.5L188.4 554.0L188.7 554.4L188.9 554.8L189.1 555.2L189.3 555.7L189.5 556.2L189.7 556.7L189.9 557.1L190.0 557.4L190.2 557.7L190.4 557.7L190.6 557.6L190.8 557.1L191.0 556.4L191.2 555.6L191.3 554.6L191.5 553.7L191.7 552.7L191.8 551.9L192.0 551.0L192.1 550.1L192.2 549.1L192.3 548.1L192.4 547.2L192.5 546.2L192.6 545.4L192.8 544.6L193.0 544.0L193.2 543.5L193.4 543.0L193.6 542.5L193.9 542.0L194.1 541.6L194.4 541.3L194.7 540.9L195.1 540.7L195.4 540.6L195.8 540.4L196.2 540.3L196.5 540.3L196.9 540.2L197.3 540.2L197.7 540.2L198.0 540.3L198.2 540.4L198.5 540.5L198.8 540.7L199.1 540.8L199.3 540.9L199.6 541.0L199.9 540.9L200.2 540.8L200.5 540.4L200.7 540.0L201.0 539.5L201.3 538.9L201.5 538.4L201.8 537.8L202.0 537.3L202.3 536.8L202.6 536.1L202.8 535.5L203.1 534.9L203.3 534.3L203.6 533.8L203.9 533.4L204.2 533.2L204.5 533.2L204.8 533.2L205.1 533.3L205.4 533.5L205.6 533.7L205.9 533.9L206.2 534.1L206.4 534.4L206.7 534.8L206.9 535.2L207.1 535.8L207.2 536.3L207.4 536.9L207.5 537.5L207.7 538.2L207.9 538.8L208.1 539.5L208.4 540.2L208.7 540.9L208.9 541.7L209.2 542.4L209.5 543.2L209.8 543.9L210.1 544.6L210.3 545.2L210.6 545.7L210.8 546.3L211.1 546.8L211.4 547.4L211.7 547.9L212.0 548.4L212.3 549.0L212.6 549.5L212.9 550.1L213.3 550.7L213.6 551.3L214.0 551.9L214.4 552.4L214.8 552.9L215.2 553.4L215.5 553.7L215.9 554.1L216.3 554.5L216.7 554.9L217.1 555.2L217.4 555.4L217.8 555.5L218.1 555.5L218.4 555.4L218.7 555.0L219.0 554.5L219.2 554.0L219.5 553.4L219.7 552.8L220.0 552.3L220.3 551.9L220.6 551.6L220.8 551.4L221.1 551.1L221.4 550.8L221.7 550.6L222.0 550.5L222.2 550.4L222.5 550.4L222.7 550.6L222.9 550.8L223.1 551.1L223.3 551.5L223.5 551.9L223.6 552.4L223.8 552.9L223.9 553.4L224.2 554.2L224.4 555.2L224.5 556.3L224.7 557.4L224.9 558.6L225.0 559.8L225.2 561.0L225.4 562.1L225.6 563.3L225.8 564.6L226.1 565.9L226.3 567.2L226.6 568.4L226.9 569.6L227.2 570.7L227.6 571.6L227.9 572.2L228.2 572.8L228.6 573.3L229.0 573.9L229.3 574.3L229.7 574.7L230.1 575.0L230.5 575.3L230.8 575.4L231.1 575.5L231.4 575.5L231.7 575.5L232.0 575.5L232.3 575.5L232.5 575.4L232.7 575.3L232.9 575.0L233.0 574.6L233.0 574.1L233.0 573.5L232.9 572.9L232.9 572.3L232.9 571.6L232.9 570.9L233.1 569.4L233.3 567.7L233.6 565.8L233.8 563.8L234.2 561.8L234.5 559.8L234.8 557.9L235.1 556.3L235.3 555.0L235.6 553.7L235.8 552.4L236.1 551.1L236.3 550.0L236.5 549.1L236.8 548.5L237.0 548.2L237.2 548.4L237.4 548.9L237.6 549.6L237.8 550.5L238.0 551.5L238.1 552.6L238.3 553.7L238.5 554.8L238.7 556.7L239.0 558.9L239.2 561.3L239.4 563.8L239.6 566.4L239.8 568.9L240.0 571.4L240.2 573.8L240.4 576.1L240.7 578.6L240.9 581.2L241.1 583.8L241.4 586.1L241.7 588.0L242.0 589.3L242.4 589.9L242.6 589.9L242.8 589.8L243.0 589.7L243.1 589.5L243.3 589.3L243.5 589.0L243.7 588.7L243.9 588.4L244.2 587.3L244.5 586.0L244.7 584.3L244.8 582.4L245.0 580.3L245.1 578.2L245.2 576.0L245.3 573.8L245.6 570.5L245.8 566.8L246.0 562.8L246.2 558.7L246.4 554.6L246.6 550.8L246.7 547.4L246.8 544.6L246.8 543.4L246.8 542.3L246.8 541.3L246.7 540.3L246.7 539.4L246.7 538.6L246.7 537.7L246.8 536.8L246.9 535.8L247.0 534.7L247.1 533.6L247.2 532.6L247.4 531.6L247.6 530.8L247.9 530.1L248.2 529.7L248.5 529.7L248.7 529.7L249.0 529.8L249.3 529.9L249.6 530.0L249.9 530.1L250.2 530.2L250.4 530.2L250.7 530.1L250.9 529.9L251.0 529.6L251.2 529.4L251.4 529.1L251.6 528.9L251.7 528.8L251.9 528.7L252.1 528.9L252.3 529.1L252.5 529.5L252.7 530.0L252.9 530.6L253.0 531.2L253.2 531.8L253.4 532.4L253.6 533.4L253.9 534.7L254.2 536.2L254.4 537.6L254.6 539.1L254.8 540.5L254.8 541.7L254.8 542.6L254.8 542.9L254.7 543.2L254.6 543.4L254.5 543.6L254.4 543.8L254.2 544.0L254.2 544.2L254.1 544.6L254.0 546.2L254.1 548.5L254.4 551.2L254.7 554.2L255.1 557.4L255.6 560.6L255.9 563.7L256.3 566.5L256.5 569.0L256.8 571.7L257.0 574.4L257.3 577.1L257.5 579.6L257.8 581.9L258.1 583.9L258.5 585.5L258.6 586.1L258.8 586.6L259.0 587.2L259.2 587.7L259.4 588.1L259.5 588.4L259.7 588.6L259.9 588.7L260.2 588.6L260.4 588.2L260.7 587.7L260.9 587.1L261.2 586.4L261.4 585.6L261.6 584.8L261.8 584.0L262.1 582.7L262.4 581.2L262.6 579.5L262.7 577.7L262.9 575.9L263.1 574.2L263.3 572.5L263.6 570.9L263.8 569.6L264.0 568.2L264.2 566.8L264.5 565.5L264.7 564.2L265.0 563.1L265.4 562.1L265.8 561.4L266.0 561.1L266.3 560.9L266.5 560.7L266.8 560.5L267.1 560.4L267.4 560.3L267.7 560.1L268.0 559.9L268.3 559.7L268.7 559.4L269.0 559.2L269.4 558.9L269.8 558.7L270.2 558.4L270.5 558.1L270.9 557.7L271.3 557.3L271.6 556.8L272.0 556.3L272.4 555.8L272.8 555.3L273.1 554.8L273.5 554.4L273.8 554.1L274.0 553.9L274.2 553.8L274.4 553.6L274.6 553.5L274.8 553.4L274.9 553.3L275.1 553.3L275.3 553.4L275.5 553.6L275.7 554.2L275.9 554.9L276.1 555.7L276.2 556.6L276.4 557.5L276.5 558.4L276.7 559.2L276.9 559.9L277.0 560.7L277.2 561.6L277.4 562.4L277.5 563.1L277.7 563.7L277.9 564.1L278.2 564.3L278.4 564.2L278.7 564.0L279.0 563.6L279.3 563.1L279.6 562.6L279.9 561.9L280.1 561.3L280.4 560.7L280.7 559.5L280.9 558.2L281.1 556.8L281.2 555.3L281.3 553.7L281.5 552.1L281.6 550.5L281.8 549.0L282.1 547.4L282.4 545.7L282.8 543.9L283.1 542.2L283.4 540.6L283.7 539.2L283.9 538.0L284.0 537.3L284.0 537.2L284.0 537.1L284.0 537.1L284.0 537.0L284.0 537.0L284.0 536.9L284.0 536.8L284.0 536.8L284.1 535.9L284.3 534.7L284.6 533.1L284.9 531.2L285.2 529.2L285.6 527.2L285.9 525.3L286.2 523.6L286.5 522.1L286.7 520.6L287.0 519.2L287.3 517.7L287.6 516.3L287.8 514.8L288.1 513.4L288.4 511.9L288.7 510.5L288.9 508.9L289.2 507.4L289.5 505.9L289.7 504.4L290.0 503.0L290.3 501.6L290.6 500.3L290.8 499.2L291.1 498.2L291.3 497.2L291.6 496.2L291.8 495.3L292.1 494.4L292.4 493.6L292.8 493.0L293.0 492.6L293.3 492.2L293.6 491.8L293.9 491.4L294.1 491.1L294.4 490.9L294.7 490.8L295.0 490.8L295.3 491.0L295.5 491.6L295.8 492.4L296.0 493.2L296.2 494.1L296.5 494.9L296.8 495.6L297.2 495.9L297.5 495.9L297.8 495.9L298.2 495.7L298.6 495.5L299.0 495.3L299.4 495.0L299.7 494.7L300.1 494.4L300.5 494.0L300.9 493.5L301.2 493.0L301.6 492.4L301.9 491.8L302.3 491.2L302.6 490.6L303.0 490.0L303.4 489.5L303.7 488.9L304.1 488.3L304.5 487.7L304.9 487.2L305.2 486.8L305.6 486.5L305.9 486.4L306.2 486.5L306.5 486.8L306.8 487.2L307.1 487.7L307.4 488.2L307.6 488.8L307.9 489.4L308.1 490.0L308.4 490.9L308.6 491.9L308.8 492.9L308.9 494.0L309.1 495.2L309.2 496.4L309.4 497.6L309.6 498.8L309.8 500.5L310.1 502.2L310.3 504.1L310.6 506.0L310.9 507.9L311.2 509.8L311.5 511.6L311.8 513.4L312.0 514.9L312.3 516.5L312.5 518.0L312.8 519.5L313.1 521.0L313.3 522.4L313.6 523.8L313.9 525.1L314.2 526.1L314.4 527.1L314.7 528.0L314.9 529.0L315.2 529.9L315.5 530.7L315.8 531.6L316.1 532.4L316.4 533.0L316.8 533.7L317.1 534.3L317.4 534.9L317.8 535.5L318.2 536.0L318.6 536.4L319.1 536.8L319.5 537.0L319.9 537.2L320.3 537.3L320.8 537.4L321.3 537.5L321.8 537.5L322.2 537.5L322.7 537.5L323.2 537.4L323.8 537.3L324.4 537.1L325.0 537.0L325.5 536.8L326.0 536.6L326.2 536.5L326.4 536.5" fill="none" stroke="#bf40ff" stroke-width="2.8" stroke-linejoin="round"/>
<path d="M57.3 535.7L57.4 535.7L57.8 535.6L58.3 535.6L58.9 535.4L59.7 535.3L60.4 535.2L61.1 535.1L61.7 535.0L62.2 534.9L62.8 534.9L63.3 534.8L63.8 534.8L64.4 534.7L64.9 534.7L65.5 534.6L66.1 534.6L66.7 534.5L67.5 534.3L68.2 534.2L68.9 534.1L69.7 534.0L70.4 533.8L71.2 533.7L71.9 533.5L72.6 533.4L73.4 533.2L74.1 533.1L74.8 532.9L75.5 532.7L76.3 532.6L77.0 532.5L77.7 532.4L78.5 532.3L79.2 532.3L80.0 532.2L80.7 532.2L81.5 532.2L82.2 532.2L82.9 532.3L83.6 532.4L84.2 532.5L84.7 532.6L85.3 532.8L85.8 532.9L86.4 533.1L86.9 533.3L87.4 533.6L88.0 533.8L88.5 534.1L89.1 534.5L89.6 534.9L90.1 535.3L90.7 535.7L91.2 536.1L91.8 536.4L92.3 536.8L92.9 537.0L93.4 537.2L94.0 537.4L94.5 537.6L95.1 537.8L95.6 538.0L96.2 538.1L96.7 538.2L97.3 538.3L97.8 538.4L98.4 538.5L98.9 538.5L99.5 538.5L100.0 538.5L100.5 538.5L101.1 538.5L101.6 538.5L102.2 538.4L102.8 538.3L103.3 538.3L103.9 538.1L104.4 538.0L105.0 537.8L105.5 537.5L106.1 537.1L106.7 536.5L107.2 535.9L107.8 535.3L108.3 534.6L108.8 533.8L109.3 533.1L109.9 532.4L110.4 531.5L111.0 530.7L111.6 529.8L112.1 528.9L112.7 528.0L113.2 527.0L113.7 526.1L114.2 525.1L114.8 523.9L115.4 522.7L115.9 521.4L116.5 520.1L117.0 518.8L117.6 517.5L118.1 516.2L118.6 514.9L119.2 513.4L119.7 512.0L120.3 510.5L120.8 509.0L121.4 507.6L121.9 506.1L122.4 504.6L123.0 503.2L123.5 501.8L124.1 500.3L124.6 498.9L125.1 497.5L125.6 496.1L126.2 494.7L126.8 493.4L127.4 492.2L127.9 491.3L128.4 490.3L128.9 489.4L129.4 488.5L130.0 487.7L130.6 487.0L131.1 486.3L131.8 485.7L132.2 485.2L132.7 484.8L133.2 484.4L133.8 484.1L134.3 483.8L134.8 483.6L135.3 483.5L135.8 483.5L136.4 483.6L136.9 483.8L137.4 484.1L137.9 484.4L138.4 484.9L138.9 485.3L139.3 485.9L139.8 486.4L140.3 487.2L140.9 488.2L141.4 489.2L141.9 490.3L142.3 491.5L142.7 492.6L143.1 493.6L143.4 494.4L143.6 494.8L143.7 495.2L143.8 495.5L143.9 495.8L144.0 496.2L144.1 496.5L144.2 496.9L144.4 497.3L144.8 498.4L145.2 499.7L145.8 501.2L146.3 502.7L147.0 504.4L147.6 506.0L148.2 507.5L148.8 509.0L149.3 510.3L149.8 511.6L150.4 512.9L150.9 514.2L151.5 515.4L152.0 516.7L152.6 518.0L153.1 519.2L153.7 520.5L154.2 521.8L154.8 523.1L155.3 524.4L155.9 525.7L156.4 527.0L157.0 528.2L157.5 529.5L158.0 530.6L158.6 531.7L159.1 532.9L159.7 534.0L160.2 535.1L160.8 536.1L161.3 537.2L161.9 538.2L162.4 539.1L163.0 540.0L163.6 540.9L164.2 541.7L164.8 542.6L165.3 543.4L165.8 544.1L166.3 544.8L166.5 545.2L166.7 545.5L166.8 545.8L167.0 546.1L167.1 546.4L167.3 546.8L167.5 547.1L167.7 547.5L168.3 548.3L168.9 549.3L169.6 550.3L170.4 551.4L171.2 552.5L172.0 553.6L172.8 554.6L173.6 555.5L174.2 556.3L174.9 557.0L175.5 557.7L176.2 558.3L176.8 558.9L177.5 559.5L178.1 560.0L178.7 560.4L179.1 560.6L179.4 560.8L179.8 561.0L180.1 561.1L180.5 561.2L180.9 561.3L181.2 561.4L181.6 561.4L182.0 561.4L182.5 561.3L182.9 561.2L183.4 561.1L183.9 561.0L184.3 560.8L184.8 560.6L185.3 560.4L185.8 560.1L186.4 559.7L186.9 559.4L187.5 559.0L188.0 558.5L188.6 558.0L189.1 557.5L189.6 557.0L190.2 556.3L190.8 555.5L191.3 554.7L191.9 553.9L192.4 553.0L192.9 552.1L193.5 551.3L194.0 550.4L194.6 549.7L195.1 548.9L195.6 548.2L196.2 547.5L196.7 546.7L197.3 546.0L197.8 545.3L198.4 544.6L198.9 543.9L199.5 543.2L200.1 542.5L200.6 541.8L201.2 541.1L201.8 540.5L202.3 540.0L202.8 539.5L203.1 539.2L203.4 538.9L203.7 538.6L204.0 538.4L204.3 538.2L204.5 538.0L204.8 538.0L205.0 538.0L205.3 538.4L205.4 539.1L205.5 540.1L205.5 541.3L205.4 542.7L205.4 544.2L205.4 545.8L205.4 547.5L205.6 553.2L205.9 561.2L206.1 570.6L206.4 580.5L206.7 589.9L206.9 597.7L207.1 603.2L207.2 605.2" fill="none" stroke="#00b300" stroke-width="2.8" stroke-linejoin="round"/>
<path d="M57.3 535.7L57.4 535.7L57.8 535.6L58.3 535.6L58.9 535.4L59.7 535.3L60.4 535.2L61.1 535.1L61.7 535.0L62.2 534.9L62.8 534.9L63.3 534.8L63.8 534.8L64.4 534.7L64.9 534.7L65.5 534.6L66.1 534.6L66.7 534.5L67.5 534.3L68.2 534.2L68.9 534.1L69.7 534.0L70.4 533.8L71.2 533.7L71.9 533.5L72.6 533.4L73.4 533.2L74.1 533.1L74.8 532.9L75.5 532.7L76.3 532.6L77.0 532.5L77.7 532.4L78.5 532.3L79.2 532.3L80.0 532.2L80.7 532.2L81.5 532.2L82.2 532.2L82.9 532.3L83.6 532.4L84.2 532.5L84.7 532.6L85.3 532.8L85.8 532.9L86.4 533.1L86.9 533.3L87.4 533.6L88.0 533.8L88.5 534.1L89.1 534.5L89.6 534.9L90.1 535.3L90.7 535.7L91.2 536.1L91.8 536.4L92.3 536.8L92.9 537.0L93.4 537.2L94.0 537.4L94.5 537.6L95.1 537.8L95.6 538.0L96.2 538.1L96.7 538.2L97.3 538.3L97.8 538.4L98.4 538.5L98.9 538.5L99.5 538.5L100.0 538.5L100.5 538.5L101.1 538.5L101.6 538.5L102.2 538.4L102.8 538.3L103.3 538.3L103.9 538.1L104.4 538.0L105.0 537.8L105.5 537.5L106.1 537.1L106.7 536.5L107.2 535.9L107.8 535.3L108.3 534.6L108.8 533.8L109.3 533.1L109.9 532.4L110.4 531.5L111.0 530.7L111.6 529.8L112.1 528.9L112.7 528.0L113.2 527.0L113.7 526.1L114.2 525.1L114.8 523.9L115.4 522.7L115.9 521.4L116.5 520.1L117.0 518.8L117.6 517.5L118.1 516.2L118.6 514.9L119.2 513.4L119.7 512.0L120.3 510.5L120.8 509.0L121.4 507.6L121.9 506.1L122.4 504.6L123.0 503.2L123.5 501.8L124.1 500.3L124.6 498.9L125.1 497.5L125.6 496.1L126.2 494.7L126.8 493.4L127.4 492.2L127.9 491.3L128.4 490.3L128.9 489.4L129.4 488.5L130.0 487.7L130.6 487.0L131.1 486.3L131.8 485.7L132.2 485.2L132.7 484.8L133.2 484.4L133.8 484.1L134.3 483.8L134.8 483.6L135.3 483.5L135.8 483.5L136.4 483.6L136.9 483.8L137.4 484.1L137.9 484.4L138.4 484.9L138.9 485.3L139.3 485.9L139.8 486.4L140.3 487.2L140.9 488.2L141.4 489.2L141.9 490.3L142.3 491.5L142.7 492.6L143.1 493.6L143.4 494.4L143.6 494.8L143.7 495.2L143.8 495.5L143.9 495.8L144.0 496.2L144.1 496.5L144.2 496.9L144.4 497.3L144.8 498.4L145.2 499.7L145.8 501.2L146.3 502.7L147.0 504.4L147.6 506.0L148.2 507.5L148.8 509.0L149.3 510.3L149.8 511.6L150.4 512.9L150.9 514.2L151.5 515.4L152.0 516.7L152.6 518.0L153.1 519.2L153.7 520.5L154.2 521.8L154.8 523.1L155.3 524.4L155.9 525.7L156.4 527.0L157.0 528.2L157.5 529.5L158.0 530.6L158.6 531.7L159.1 532.9L159.7 534.0L160.2 535.1L160.8 536.1L161.3 537.2L161.9 538.2L162.4 539.1L163.0 540.0L163.6 540.9L164.2 541.7L164.8 542.6L165.3 543.4L165.8 544.1L166.3 544.8L166.5 545.2L166.7 545.5L166.8 545.8L167.0 546.1L167.1 546.4L167.3 546.8L167.5 547.1L167.7 547.5L168.3 548.3L168.9 549.3L169.6 550.3L170.4 551.4L171.2 552.5L172.0 553.6L172.8 554.6L173.6 555.5L174.2 556.3L174.9 557.0L175.5 557.7L176.2 558.3L176.8 558.9L177.5 559.5L178.1 560.0L178.7 560.4L179.1 560.6L179.5 560.7L179.9 560.8L180.3 560.8L180.7 560.9L181.0 561.0L181.3 561.1L181.6 561.4L181.9 561.9L182.1 562.6L182.2 563.3L182.2 564.2L182.2 565.1L182.2 566.1L182.3 567.0L182.3 568.0L182.5 569.1L182.6 570.4L182.8 571.7L182.9 573.0L183.1 574.3L183.3 575.7L183.5 577.0L183.8 578.2L184.1 579.3L184.4 580.6L184.7 582.0L185.0 583.2L185.4 584.4L185.7 585.3L186.1 586.0L186.4 586.2L186.7 586.1L187.0 585.7L187.3 585.1L187.7 584.4L188.0 583.6L188.3 582.7L188.6 581.9L188.9 581.1L189.3 580.1L189.7 579.1L190.0 578.0L190.4 576.9L190.7 575.7L191.1 574.6L191.5 573.4L191.8 572.3L192.2 571.2L192.6 570.1L192.9 569.1L193.3 568.0L193.6 566.9L194.0 565.8L194.4 564.7L194.7 563.6L195.1 562.5L195.5 561.4L195.8 560.3L196.2 559.2L196.6 558.1L196.9 557.0L197.3 555.9L197.7 554.8L198.0 553.8L198.4 552.8L198.7 551.7L199.1 550.7L199.5 549.7L199.8 548.7L200.2 547.7L200.6 546.8L200.9 545.9L201.3 545.0L201.6 544.1L202.0 543.2L202.4 542.4L202.7 541.6L203.1 540.8L203.5 540.2L203.8 539.8L204.0 539.4L204.3 539.1L204.6 538.7L204.9 538.4L205.1 538.2L205.4 538.1L205.7 538.0L206.0 538.1L206.4 538.4L206.8 538.8L207.1 539.3L207.5 539.9L207.9 540.5L208.2 541.1L208.6 541.7L209.1 542.6L209.7 543.6L210.2 544.7L210.8 545.9L211.3 547.0L211.9 548.2L212.4 549.4L213.0 550.4L213.5 551.4L214.1 552.3L214.6 553.2L215.2 554.1L215.7 555.0L216.3 555.9L216.8 556.8L217.4 557.7L217.9 558.6L218.5 559.6L219.1 560.5L219.6 561.4L220.2 562.3L220.8 563.2L221.3 564.1L221.8 565.0L222.2 565.9L222.6 566.9L222.9 567.8L223.3 568.8L223.6 569.7L224.0 570.6L224.3 571.5L224.7 572.3L225.0 573.0L225.2 573.7L225.5 574.5L225.8 575.2L226.1 575.8L226.3 576.3L226.6 576.6L226.9 576.7L227.2 576.5L227.5 575.9L227.7 575.1L228.0 574.1L228.3 573.0L228.6 571.8L228.8 570.6L229.1 569.4L229.4 567.8L229.7 566.1L229.9 564.3L230.2 562.4L230.5 560.5L230.7 558.5L231.0 556.6L231.2 554.8L231.5 553.1L231.8 551.4L232.0 549.6L232.3 547.9L232.5 546.2L232.8 544.6L233.1 543.1L233.4 541.7L233.7 540.7L233.9 539.6L234.2 538.5L234.4 537.5L234.7 536.6L235.0 535.8L235.3 535.3L235.6 535.1L235.9 535.2L236.2 535.4L236.5 535.8L236.9 536.3L237.2 536.9L237.5 537.5L237.8 538.1L238.0 538.8L238.3 539.8L238.6 540.9L238.8 542.1L238.9 543.4L239.1 544.8L239.2 546.2L239.3 547.6L239.5 549.0L239.7 550.7L239.8 552.5L240.0 554.4L240.2 556.3L240.3 558.2L240.5 560.1L240.7 561.9L240.9 563.6L241.2 565.0L241.3 566.5L241.5 568.1L241.7 569.5L242.0 570.9L242.3 572.1L242.7 573.1L243.1 573.8L243.4 574.1L243.8 574.2L244.1 574.4L244.5 574.4L244.8 574.5L245.2 574.5L245.6 574.5L246.1 574.5L246.7 574.5L247.4 574.5L248.1 574.5L248.8 574.4L249.6 574.2L250.4 574.1L251.1 574.0L251.9 573.8L252.8 573.6L253.7 573.4L254.7 573.1L255.6 572.8L256.6 572.5L257.5 572.2L258.4 571.9L259.2 571.6L259.8 571.3L260.4 570.9L261.0 570.5L261.6 570.1L262.2 569.7L262.7 569.5L263.2 569.3L263.6 569.4L264.1 569.9L264.4 570.7L264.7 571.8L265.0 573.1L265.1 574.5L265.3 575.9L265.5 577.1L265.8 578.2L266.0 578.9L266.2 579.6L266.4 580.3L266.6 581.0L266.7 581.6L266.9 582.1L267.1 582.4L267.2 582.6L267.4 582.3L267.5 581.7L267.6 580.7L267.7 579.5L267.8 578.1L267.8 576.7L267.9 575.2L268.0 573.8L268.0 571.5L268.1 569.0L268.1 566.2L268.2 563.4L268.2 560.4L268.2 557.5L268.2 554.6L268.2 551.9L268.3 549.4L268.3 546.8L268.4 544.1L268.4 541.6L268.5 539.1L268.5 536.8L268.6 534.7L268.7 532.9L268.7 532.2L268.8 531.6L268.8 531.0L268.9 530.5L269.0 530.0L269.0 529.4L269.1 528.8L269.1 528.0L269.2 525.4L269.3 522.2L269.3 518.4L269.4 514.3L269.4 510.1L269.5 506.0L269.6 502.1L269.7 498.8L269.8 496.5L269.9 494.1L270.1 491.7L270.2 489.4L270.3 487.3L270.5 485.7L270.7 484.6L270.9 484.2L271.0 484.4L271.2 484.9L271.4 485.7L271.6 486.7L271.8 487.8L272.0 489.0L272.2 490.3L272.3 491.5L272.6 493.7L272.8 496.1L272.9 498.8L273.1 501.7L273.3 504.7L273.4 507.6L273.6 510.6L273.8 513.4L274.0 516.2L274.3 519.1L274.6 522.0L274.9 524.9L275.2 527.8L275.5 530.5L275.8 533.0L276.0 535.3L276.1 536.6L276.2 537.8L276.3 538.8L276.4 539.9L276.5 540.9L276.5 542.0L276.6 543.2L276.7 544.6L276.9 547.5L277.0 550.9L277.2 554.6L277.3 558.5L277.5 562.6L277.7 566.5L277.9 570.3L278.2 573.8L278.4 576.7L278.6 579.9L278.9 583.2L279.2 586.3L279.5 589.2L279.8 591.4L280.1 592.9L280.4 593.5L280.6 593.2L280.9 592.2L281.2 590.8L281.5 589.1L281.8 587.1L282.1 585.0L282.3 583.0L282.6 581.1L282.8 578.7L283.0 576.1L283.2 573.3L283.4 570.5L283.6 567.7L283.7 564.8L283.9 562.0L284.0 559.2L284.2 556.5L284.3 553.7L284.5 551.0L284.7 548.3L284.8 545.6L285.0 542.8L285.1 540.1L285.2 537.3L285.3 534.4L285.3 531.5L285.3 528.6L285.3 525.7L285.3 522.8L285.3 519.7L285.4 516.6L285.5 513.4L285.6 509.1L285.9 504.4L286.1 499.5L286.4 494.6L286.7 489.7L287.0 485.0L287.3 480.7L287.7 476.9L287.8 474.6L288.0 472.2L288.1 469.9L288.3 467.7L288.5 465.7L288.7 464.1L289.1 462.9L289.6 462.3L289.8 462.2L290.0 462.2L290.3 462.2L290.6 462.3L290.9 462.4L291.1 462.6L291.4 462.8L291.6 463.0L292.1 463.9L292.4 465.2L292.7 466.9L292.9 468.7L293.0 470.8L293.1 472.9L293.3 474.9L293.5 476.9L293.8 479.1L294.0 481.5L294.3 483.9L294.6 486.4L294.9 488.8L295.1 491.2L295.4 493.6L295.7 495.9L295.9 497.8L296.2 499.8L296.5 501.7L296.7 503.6L297.0 505.5L297.3 507.2L297.6 508.9L297.9 510.5L298.1 511.6L298.4 512.8L298.7 514.0L298.9 515.2L299.2 516.2L299.5 517.0L299.8 517.6L300.1 517.8L300.3 517.6L300.6 517.2L300.9 516.6L301.2 515.8L301.5 514.9L301.8 513.9L302.0 512.9L302.3 511.9L302.6 510.3L302.9 508.5L303.2 506.6L303.5 504.5L303.7 502.4L304.0 500.2L304.2 498.0L304.5 495.9L304.7 493.6L304.9 491.2L305.1 488.7L305.3 486.3L305.5 483.9L305.7 481.5L306.0 479.1L306.2 476.9L306.4 474.9L306.5 472.8L306.7 470.6L306.8 468.6L307.0 466.6L307.3 465.0L307.6 463.8L308.1 463.0L308.3 462.9L308.6 462.8L308.8 462.7L309.1 462.7L309.3 462.7L309.6 462.8L309.8 462.9L310.0 463.0L310.4 463.8L310.7 465.0L310.8 466.6L310.9 468.5L310.9 470.6L310.9 472.7L310.9 474.9L311.0 476.9L311.2 479.4L311.4 481.9L311.6 484.6L311.8 487.3L311.9 490.1L312.1 493.0L312.3 495.9L312.5 498.8L312.7 502.3L312.8 506.0L313.0 509.8L313.1 513.6L313.3 517.5L313.5 521.2L313.7 524.7L313.9 528.0L314.2 530.3L314.4 532.5L314.7 534.6L315.0 536.7L315.3 538.7L315.6 540.6L315.9 542.6L316.1 544.6L316.3 546.5L316.5 548.5L316.6 550.4L316.8 552.4L316.9 554.3L317.1 556.0L317.3 557.7L317.6 559.2L317.8 560.1L318.1 561.1L318.3 562.1L318.6 563.0L318.9 563.8L319.2 564.5L319.5 564.9L319.8 565.0L320.1 564.9L320.3 564.4L320.6 563.8L320.9 563.0L321.2 562.0L321.5 561.1L321.7 560.1L322.0 559.2L322.3 558.1L322.6 556.8L322.8 555.5L323.1 554.2L323.4 552.9L323.6 551.5L323.9 550.2L324.2 549.0L324.4 547.8L324.7 546.6L325.0 545.5L325.2 544.3L325.5 543.2L325.8 542.1L326.1 541.1L326.4 540.2L326.6 539.6L326.8 539.0L327.0 538.4L327.3 537.8L327.5 537.3L327.7 536.9L327.8 536.7L327.8 536.6" fill="none" stroke="#d95319" stroke-width="2.8" stroke-linejoin="round" stroke-dasharray="2.4 1.6"/>
<path d="M323.59999999999997 532.0L330.8 539.2M323.59999999999997 539.2L330.8 532.0" stroke="#ff0000" stroke-width="4.6" fill="none"/>
<path d="M403.5 542.4L403.7 542.5L404.2 542.8L404.9 543.3L405.8 543.9L406.8 544.6L407.8 545.4L408.8 546.1L409.6 546.8L410.4 547.5L411.1 548.3L411.9 549.0L412.6 549.8L413.3 550.7L414.0 551.5L414.7 552.4L415.4 553.4L416.2 554.4L417.0 555.6L417.7 556.7L418.4 557.9L419.1 559.1L419.9 560.4L420.6 561.6L421.3 562.8L422.0 564.2L422.8 565.5L423.5 566.9L424.3 568.3L425.0 569.7L425.7 571.1L426.4 572.5L427.1 573.8L427.7 575.0L428.3 576.1L428.8 577.3L429.4 578.4L429.9 579.5L430.5 580.6L431.0 581.6L431.5 582.6L431.9 583.3L432.2 584.1L432.6 584.8L432.9 585.6L433.2 586.3L433.6 586.8L434.0 587.3L434.4 587.7L434.8 587.8L435.1 587.9L435.5 588.0L435.9 588.0L436.2 588.0L436.6 587.9L437.0 587.8L437.3 587.7L437.7 587.4L438.1 587.1L438.5 586.7L438.9 586.3L439.2 585.8L439.6 585.2L439.9 584.6L440.3 584.0L440.8 582.9L441.4 581.6L441.9 580.2L442.5 578.6L443.0 577.0L443.6 575.4L444.1 573.8L444.6 572.3L445.2 570.9L445.7 569.4L446.3 567.9L446.8 566.4L447.4 565.0L447.9 563.5L448.5 562.1L449.0 560.7L449.5 559.3L450.1 558.0L450.6 556.7L451.2 555.4L451.7 554.2L452.3 552.9L452.8 551.7L453.4 550.4L453.9 549.3L454.5 548.2L455.0 547.0L455.5 545.9L456.1 544.8L456.6 543.8L457.2 542.7L457.8 541.7L458.3 540.8L458.9 539.9L459.4 539.0L460.0 538.1L460.5 537.3L461.1 536.4L461.6 535.5L462.2 534.6L462.7 533.5L463.3 532.3L463.9 531.2L464.4 530.0L464.9 528.8L465.5 527.6L466.0 526.3L466.5 525.1L467.1 523.7L467.7 522.2L468.2 520.8L468.7 519.3L469.3 517.8L469.8 516.3L470.4 514.9L470.9 513.4L471.5 511.9L472.0 510.5L472.6 509.0L473.1 507.6L473.6 506.1L474.2 504.6L474.7 503.2L475.3 501.7L475.8 500.2L476.4 498.8L476.9 497.3L477.4 495.8L478.0 494.3L478.5 492.8L479.1 491.4L479.7 490.0L480.2 488.9L480.7 487.7L481.3 486.6L481.8 485.5L482.3 484.4L482.9 483.3L483.5 482.3L484.1 481.3L484.6 480.3L485.2 479.3L485.8 478.3L486.4 477.3L486.9 476.4L487.5 475.6L488.0 475.1L488.4 474.7L488.6 474.7L488.7 474.7L488.8 474.7L488.9 474.7L489.0 474.7L489.1 474.8L489.2 474.8L489.4 474.7L489.8 474.3L490.3 473.7L490.8 472.9L491.3 471.9L491.9 470.9L492.5 469.9L493.1 469.0L493.8 468.1L494.4 467.4L495.1 466.7L495.8 466.0L496.5 465.3L497.3 464.6L498.0 464.0L498.8 463.5L499.6 463.0L500.3 462.7L501.0 462.4L501.7 462.1L502.5 461.9L503.2 461.7L504.0 461.6L504.7 461.6L505.4 461.6L506.2 461.7L506.9 461.8L507.7 462.0L508.5 462.3L509.2 462.6L509.9 463.0L510.6 463.4L511.3 463.8L511.9 464.2L512.5 464.7L513.0 465.2L513.6 465.7L514.1 466.3L514.6 466.9L515.1 467.5L515.7 468.1L516.2 468.9L516.8 469.6L517.4 470.4L517.9 471.3L518.4 472.1L519.0 473.0L519.5 473.8L520.0 474.7L520.6 475.7L521.2 476.6L521.7 477.6L522.3 478.6L522.8 479.7L523.3 480.7L523.9 481.7L524.4 482.7L525.0 483.8L525.5 484.9L526.1 486.0L526.6 487.0L527.2 488.1L527.7 489.2L528.3 490.4L528.8 491.5L529.4 492.7L529.9 494.0L530.5 495.3L531.0 496.6L531.5 497.9L532.1 499.2L532.6 500.5L533.2 501.7L533.7 502.9L534.2 504.1L534.7 505.3L535.3 506.5L535.8 507.7L536.4 508.9L536.9 510.1L537.6 511.2L538.2 512.3L538.9 513.5L539.6 514.6L540.4 515.7L541.1 516.8L541.9 517.9L542.6 518.9L543.4 520.0L544.1 520.9L544.8 521.9L545.6 522.8L546.3 523.7L547.0 524.6L547.8 525.5L548.5 526.4L549.2 527.3L550.0 528.2L550.7 529.1L551.4 530.0L552.2 530.9L552.9 531.8L553.6 532.7L554.3 533.6L555.1 534.6L555.8 535.5L556.5 536.4L557.3 537.3L558.0 538.2L558.7 539.1L559.4 540.0L560.2 541.0L560.9 541.9L561.6 542.8L562.3 543.7L563.1 544.7L563.8 545.6L564.5 546.5L565.2 547.4L566.0 548.2L566.8 549.0L567.4 549.6L568.2 550.1L568.9 550.5L569.6 551.0L570.4 551.4L571.1 551.8L571.8 552.2L572.6 552.6L573.3 553.0L574.0 553.4L574.8 553.7L575.5 554.1L576.2 554.4L577.0 554.8L577.7 555.1L578.4 555.5L579.3 556.0L580.1 556.5L581.0 557.0L581.8 557.6L582.7 558.1L583.5 558.7L584.3 559.3L585.0 559.9L585.6 560.6L586.2 561.3L586.8 562.0L587.3 562.7L587.8 563.5L588.3 564.3L588.8 565.0L589.4 565.8L589.9 566.5L590.5 567.2L591.0 567.9L591.6 568.6L592.1 569.3L592.7 570.1L593.2 570.8L593.8 571.6L594.3 572.5L594.9 573.5L595.4 574.5L596.0 575.6L596.5 576.6L597.0 577.6L597.6 578.6L598.1 579.6L598.7 580.6L599.2 581.5L599.7 582.5L600.3 583.5L600.8 584.4L601.4 585.3L601.9 586.1L602.5 586.9L603.0 587.6L603.6 588.2L604.1 588.8L604.7 589.4L605.3 589.9L605.8 590.4L606.4 590.9L606.9 591.3L607.3 591.6L607.6 591.9L608.0 592.2L608.4 592.5L608.7 592.7L609.1 592.9L609.4 593.0L609.8 593.1L610.2 593.1L610.5 593.1L610.9 593.0L611.3 592.9L611.7 592.7L612.0 592.5L612.4 592.3L612.7 592.0L613.3 591.4L613.9 590.6L614.5 589.7L615.0 588.6L615.5 587.5L616.1 586.3L616.6 585.1L617.1 584.0L617.7 582.8L618.3 581.6L618.8 580.3L619.4 579.1L619.9 577.8L620.4 576.5L621.0 575.1L621.5 573.8L622.1 572.3L622.6 570.7L623.1 569.2L623.7 567.6L624.2 566.0L624.8 564.4L625.3 562.9L625.9 561.4L626.4 560.1L626.9 558.8L627.4 557.6L628.0 556.4L628.5 555.2L629.1 554.0L629.7 552.9L630.3 551.9L630.8 551.0L631.3 550.2L631.9 549.3L632.4 548.5L633.0 547.7L633.6 547.1L634.1 546.5L634.6 546.1L634.9 545.9L635.2 545.7L635.5 545.5L635.7 545.4L636.0 545.3L636.3 545.3L636.6 545.3L636.8 545.3L637.3 545.6L637.7 546.0L638.2 546.6L638.6 547.3L639.1 548.1L639.6 548.9L640.0 549.7L640.5 550.4L641.0 551.3L641.6 552.3L642.1 553.3L642.7 554.4L643.2 555.4L643.7 556.4L644.3 557.5L644.9 558.5L645.4 559.4L645.9 560.4L646.5 561.4L647.0 562.3L647.6 563.3L648.1 564.2L648.7 565.0L649.2 565.8L649.7 566.3L650.1 566.9L650.6 567.4L651.0 567.9L651.5 568.4L651.9 568.7L652.4 569.0L652.9 569.1L653.3 569.1L653.8 569.0L654.2 568.9L654.7 568.6L655.2 568.3L655.6 568.0L656.1 567.6L656.5 567.2L657.1 566.6L657.7 565.9L658.2 565.1L658.8 564.2L659.3 563.3L659.8 562.4L660.4 561.5L660.9 560.7L661.5 559.8L662.0 559.0L662.5 558.2L663.1 557.3L663.6 556.5L664.2 555.7L664.7 554.9L665.3 554.1L665.8 553.3L666.4 552.6L666.9 551.8L667.4 551.1L668.0 550.3L668.5 549.6L669.1 548.9L669.7 548.2L670.2 547.7L670.7 547.1L671.3 546.5L671.8 546.0L672.4 545.4L672.9 544.9L673.5 544.4L674.1 543.9L674.6 543.4L675.2 542.9L675.8 542.4L676.3 542.0L676.9 541.5L677.4 541.1L678.0 540.6L678.4 540.2L678.8 539.9L679.1 539.5L679.5 539.2L679.9 538.8L680.2 538.5L680.4 538.3L680.6 538.1L680.6 538.0" fill="none" stroke="#0000ff" stroke-width="2.8" stroke-linejoin="round" stroke-dasharray="2.4 1.6"/>
<path d="M403.5 538.5L407.4 541.7L411.1 549.0L414.0 557.7L416.9 566.5L419.1 573.1L422.0 572.3L424.2 571.6L425.7 575.3L427.1 581.1L429.3 582.6L431.5 579.6L433.2 580.4L434.4 582.8L440.3 582.8L441.4 573.8L442.4 559.2L443.9 541.7L444.6 533.8L446.1 516.3L447.8 501.7L449.7 495.1L451.2 493.7L459.2 493.7L460.7 498.8L461.9 506.1L463.3 498.8L464.3 493.7L470.9 493.7L472.4 498.8L473.8 510.5L475.3 519.2L476.0 530.9L477.5 536.8L478.9 544.1L480.4 547.5L481.4 536.8L482.6 516.3L483.8 504.6L484.8 510.5L485.5 528.0L487.0 542.6L487.9 547.5L490.1 548.2L491.6 556.3L492.6 559.9L493.8 551.9L494.9 537.3L495.2 520.7L496.7 501.7L497.8 493.7L536.8 493.7L536.4 513.4L536.8 528.0L537.3 549.9L537.8 565.8L539.0 523.6L540.2 542.6L541.2 535.3L542.2 548.4L543.4 536.8L544.9 553.4L545.6 525.1L547.0 536.8L548.1 530.9L549.2 546.1L550.7 533.8L551.9 541.1L552.9 533.8L554.3 557.8L555.4 522.2L556.5 536.8L558.0 533.8L559.5 542.6L560.9 530.9L562.4 539.7L564.6 556.3L566.0 525.8L567.5 538.2L568.9 536.8L570.4 542.6L572.6 534.6L574.3 541.1L576.2 546.1L577.3 525.8L578.4 536.8L579.9 536.8L581.4 539.7L582.8 533.8L584.3 551.9L585.0 521.4L585.7 493.7L587.2 494.4L588.2 528.0L589.1 498.8L591.6 496.6L593.0 520.7L594.5 571.8L595.9 590.6L597.4 589.9L598.4 528.0L599.3 498.8L603.2 497.3L604.0 528.0L604.4 551.9L605.4 536.8L606.9 542.6L608.4 528.0L609.8 498.8L611.0 498.1L611.6 542.6L612.0 566.5L613.5 557.2L614.9 528.0L616.4 587.0L617.4 497.3L618.3 542.6L620.0 587.7L621.5 542.6L623.2 513.4L624.4 498.8L625.9 516.3L626.6 536.8L627.6 540.3L628.8 498.8L630.3 496.6L631.4 498.8L632.4 586.2L633.2 533.0L635.4 544.6L636.8 573.8L638.3 585.5L641.2 589.9L643.4 585.5L646.3 573.8L648.5 559.2L650.7 549.0L652.2 566.5L653.6 585.5L656.5 589.2L658.7 586.2L660.9 588.4L664.6 586.2L666.8 582.6L668.2 573.8L669.7 564.3L670.8 573.8L671.9 583.3L674.1 585.5L677.0 583.3L679.2 573.8L679.9 551.9L680.6 540.3" fill="none" stroke="#bf40ff" stroke-width="2.8" stroke-linejoin="round"/>
<path d="M403.5 538.5L406.7 540.9L410.3 547.5L414.0 557.0L416.9 566.5L419.8 574.5L422.0 576.7L424.2 573.1L426.4 565.0L428.6 557.7L430.8 554.1L433.0 557.7L434.4 566.5L435.6 581.1L436.6 592.8L437.6 603.0L438.4 609.6L439.2 604.5L441.7 601.5L443.2 604.5L444.6 598.6L446.1 592.8L447.3 596.4L448.3 585.5L448.7 573.8L449.3 559.2L450.2 541.7L450.2 536.8L451.2 516.3L452.2 501.7L453.4 488.6L454.9 476.9L456.3 470.3L458.5 466.7L460.7 468.9L462.9 473.2L464.3 468.1L465.4 465.2L468.7 465.5" fill="none" stroke="#d95319" stroke-width="2.8" stroke-linejoin="round" stroke-dasharray="2.4 1.6"/>
<path d="M677.0 534.4L684.2 541.6M677.0 541.6L684.2 534.4" stroke="#ff0000" stroke-width="4.6" fill="none"/>
<path d="M5.2 17H37.6" stroke="#0000ff" stroke-width="2.8" fill="none" stroke-dasharray="2.4 1.6"/>
<text x="40.5" y="21.7" font-size="20" class="tr it" textLength="15.2" lengthAdjust="spacingAndGlyphs">D</text>
<text x="57.0" y="21.7" font-size="20" class="tr it" textLength="19.6" lengthAdjust="spacingAndGlyphs">M</text>
<text x="77.3" y="21.7" font-size="20" class="tr it" textLength="12.4" lengthAdjust="spacingAndGlyphs">P</text>
<path d="M5.2 39H37.6" stroke="#bf40ff" stroke-width="2.8" fill="none"/>
<text x="39.9" y="43.8" font-size="20" class="tr it" textLength="16.0" lengthAdjust="spacingAndGlyphs">dt</text>
<text x="60.6" y="43.8" font-size="20" class="tr" textLength="14.0" lengthAdjust="spacingAndGlyphs">=</text>
<text x="80.0" y="43.8" font-size="20" class="tr" textLength="28.5" lengthAdjust="spacingAndGlyphs">0.1,</text>
<text x="112.3" y="43.8" font-size="20" class="tr it" textLength="16.3" lengthAdjust="spacingAndGlyphs">N</text>
<text x="133.1" y="43.8" font-size="20" class="tr" textLength="14.0" lengthAdjust="spacingAndGlyphs">=</text>
<text x="152.4" y="43.8" font-size="20" class="tr" textLength="18.2" lengthAdjust="spacingAndGlyphs">10</text>
<path d="M182 15.6H213.4" stroke="#00b300" stroke-width="2.8" fill="none"/>
<text x="216.3" y="20.5" font-size="20" class="tr it" textLength="16.0" lengthAdjust="spacingAndGlyphs">dt</text>
<text x="237.7" y="20.5" font-size="20" class="tr" textLength="14.0" lengthAdjust="spacingAndGlyphs">=</text>
<text x="256.8" y="20.5" font-size="20" class="tr" textLength="36.6" lengthAdjust="spacingAndGlyphs">0.01,</text>
<text x="297.8" y="20.5" font-size="20" class="tr it" textLength="16.3" lengthAdjust="spacingAndGlyphs">N</text>
<text x="318.6" y="20.5" font-size="20" class="tr" textLength="14.0" lengthAdjust="spacingAndGlyphs">=</text>
<text x="337.9" y="20.5" font-size="20" class="tr" textLength="18.2" lengthAdjust="spacingAndGlyphs">10</text>
<path d="M182 38.2H213.4" stroke="#d95319" stroke-width="2.8" fill="none" stroke-dasharray="2.4 1.6"/>
<text x="216.3" y="43.2" font-size="20" class="tr it" textLength="16.0" lengthAdjust="spacingAndGlyphs">dt</text>
<text x="237.7" y="43.2" font-size="20" class="tr" textLength="14.0" lengthAdjust="spacingAndGlyphs">=</text>
<text x="256.8" y="43.2" font-size="20" class="tr" textLength="36.6" lengthAdjust="spacingAndGlyphs">0.01,</text>
<text x="297.8" y="43.2" font-size="20" class="tr it" textLength="16.3" lengthAdjust="spacingAndGlyphs">N</text>
<text x="318.6" y="43.2" font-size="20" class="tr" textLength="14.0" lengthAdjust="spacingAndGlyphs">=</text>
<text x="337.9" y="43.2" font-size="20" class="tr" textLength="18.2" lengthAdjust="spacingAndGlyphs">50</text>
<path d="M406.2 10.5H437.4" stroke="#0000ff" stroke-width="2.8" fill="none" stroke-dasharray="2.4 1.6"/>
<text x="441.5" y="15.3" font-size="19.5" class="tr" textLength="48.3" lengthAdjust="spacingAndGlyphs"><tspan class="it">DMP</tspan></text>
<path d="M502.3 10.5H533.6" stroke="#d95319" stroke-width="2.8" fill="none" stroke-dasharray="2.4 1.6"/>
<text x="537.3" y="15.0" font-size="19.5" class="tr" textLength="140.5" lengthAdjust="spacingAndGlyphs">hard limits (only)</text>
<path d="M406.2 32.8H438" stroke="#bf40ff" stroke-width="2.8" fill="none"/>
<text x="440.4" y="38.3" font-size="19.5" class="tr" textLength="208.6" lengthAdjust="spacingAndGlyphs">soft limits and relaxations</text>
<text transform="translate(21.5 126.2) rotate(-90)" font-size="17.5" class="tr" text-anchor="middle" textLength="52.4" lengthAdjust="spacingAndGlyphs">pos <tspan font-size="19.5" dy="1.0">[</tspan><tspan dy="-1.0"><tspan class="it">m</tspan></tspan><tspan font-size="19.5" dy="1.0">]</tspan></text>
<text transform="translate(359.6 122.3) rotate(-90)" font-size="17.5" class="tr" text-anchor="middle" textLength="52.4" lengthAdjust="spacingAndGlyphs">pos <tspan font-size="19.5" dy="1.0">[</tspan><tspan dy="-1.0"><tspan class="it">m</tspan></tspan><tspan font-size="19.5" dy="1.0">]</tspan></text>
<text transform="translate(15.5 329.6) rotate(-90)" font-size="17.5" class="tr" text-anchor="middle" textLength="65" lengthAdjust="spacingAndGlyphs">vel <tspan font-size="19.5" dy="1.0">[</tspan><tspan dy="-1.0"><tspan class="it">m</tspan>/<tspan class="it">s</tspan></tspan><tspan font-size="19.5" dy="1.0">]</tspan></text>
<text transform="translate(360.3 329.4) rotate(-90)" font-size="17.5" class="tr" text-anchor="middle" textLength="64.5" lengthAdjust="spacingAndGlyphs">vel <tspan font-size="19.5" dy="1.0">[</tspan><tspan dy="-1.0"><tspan class="it">m</tspan>/<tspan class="it">s</tspan></tspan><tspan font-size="19.5" dy="1.0">]</tspan></text>
<text transform="translate(13.7 536.7) rotate(-90)" font-size="17.5" class="tr" text-anchor="middle" textLength="85" lengthAdjust="spacingAndGlyphs">accel <tspan font-size="19.5" dy="1.0">[</tspan><tspan dy="-1.0"><tspan class="it">m</tspan>/<tspan class="it">s</tspan></tspan><tspan font-size="12.5" dy="-6.5">2</tspan><tspan font-size="19.5" dy="7.5">]</tspan></text>
<text transform="translate(359.8 536.7) rotate(-90)" font-size="17.5" class="tr" text-anchor="middle" textLength="85" lengthAdjust="spacingAndGlyphs">accel <tspan font-size="19.5" dy="1.0">[</tspan><tspan dy="-1.0"><tspan class="it">m</tspan>/<tspan class="it">s</tspan></tspan><tspan font-size="12.5" dy="-6.5">2</tspan><tspan font-size="19.5" dy="7.5">]</tspan></text>
<text x="165.8" y="648.8" font-size="17.5" class="tr" textLength="52.8" lengthAdjust="spacingAndGlyphs">time <tspan font-size="19.5" dy="1.0">[</tspan><tspan dy="-1.0"><tspan class="it">s</tspan></tspan><tspan font-size="19.5" dy="1.0">]</tspan></text>
<text x="515.3" y="648.8" font-size="17.5" class="tr" textLength="53.8" lengthAdjust="spacingAndGlyphs">time <tspan font-size="19.5" dy="1.0">[</tspan><tspan dy="-1.0"><tspan class="it">s</tspan></tspan><tspan font-size="19.5" dy="1.0">]</tspan></text>
</svg>
</body></html>
